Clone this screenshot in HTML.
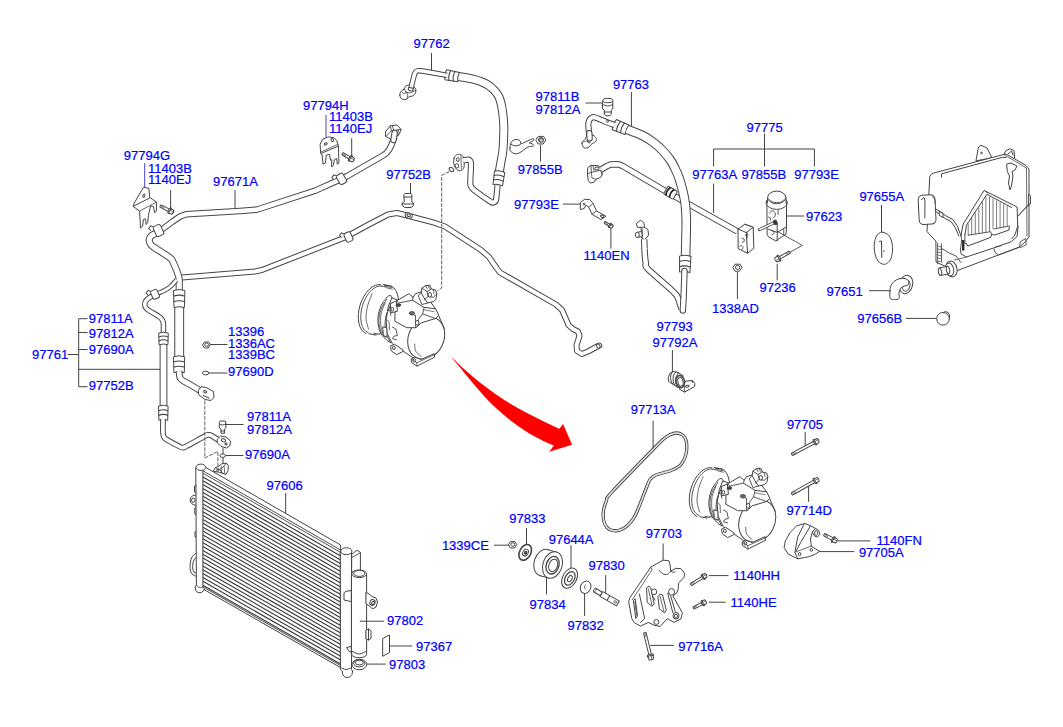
<!DOCTYPE html>
<html><head><meta charset="utf-8"><title>A/C system parts diagram</title>
<style>html,body{margin:0;padding:0;background:#fff}svg{display:block}text{font-family:"Liberation Sans",Arial,sans-serif;font-size:13px;fill:#0000ff;stroke:#0000ff;stroke-width:0.22px}</style>
</head><body>
<svg width="1063" height="727" viewBox="0 0 1063 727">
<rect width="1063" height="727" fill="#fff"/>
<g id="drawing">
<path d="M182 277.5 L255 271.5 L262 270 L345 237.5 L366 226 L388 214.5 L397 213 L409 216 L434 222.6 L445 226.5 L481 250 L489 257 L496.5 268 L500 272.5 L556 304.5 L562 310 L568.5 325 L573 329 L578 331.5 L579.5 336 L576.5 345 L577 351 L582 354 L588 351.5 L599 345.5" fill="none" stroke="#454545" stroke-width="6" stroke-linejoin="round" stroke-linecap="butt"/>
<path d="M182 277.5 L255 271.5 L262 270 L345 237.5 L366 226 L388 214.5 L397 213 L409 216 L434 222.6 L445 226.5 L481 250 L489 257 L496.5 268 L500 272.5 L556 304.5 L562 310 L568.5 325 L573 329 L578 331.5 L579.5 336 L576.5 345 L577 351 L582 354 L588 351.5 L599 345.5" fill="none" stroke="#fff" stroke-width="4" stroke-linejoin="round" stroke-linecap="butt"/>
<ellipse cx="600" cy="345.2" rx="1.6" ry="2.3" fill="#fff" stroke="#454545" stroke-width="1" transform="rotate(-28 600 345.2)"/>
<ellipse cx="598.3" cy="346.1" rx="1.6" ry="2.3" fill="#fff" stroke="#454545" stroke-width="1" transform="rotate(-28 598.3 346.1)"/>
<g transform="translate(348.5 237) rotate(-25)">
<rect x="-3.5" y="-4.8" width="7" height="9.5" rx="2" fill="#fff" stroke="#454545" stroke-width="1"/>
<path d="M-2.5 -4.2 l-2 -2.5 l-3 1.5 l1 3" fill="#fff" stroke="#454545" stroke-width="1"/>
</g>
<ellipse cx="408.7" cy="215.6" rx="3.6" ry="2.6" fill="#fff" stroke="#454545" stroke-width="1" transform="rotate(15 408.7 215.6)"/>
<ellipse cx="408.7" cy="215.3" rx="1.8" ry="1.2" fill="#fff" stroke="#454545" stroke-width="1" transform="rotate(15 408.7 215.3)"/>
<path d="M394.3 137.1 L391.5 145 L389.2 149.5 L386.5 153 L383.5 155.2 L347.4 176 L341 179.2 L334 182.3 L315.3 190.6 L262 208 L256 209.8 L240 211 L186 214.3 L180 216.5 L172 222 L162 229.5" fill="none" stroke="#454545" stroke-width="6.5" stroke-linejoin="round" stroke-linecap="butt"/>
<path d="M394.3 137.1 L391.5 145 L389.2 149.5 L386.5 153 L383.5 155.2 L347.4 176 L341 179.2 L334 182.3 L315.3 190.6 L262 208 L256 209.8 L240 211 L186 214.3 L180 216.5 L172 222 L162 229.5" fill="none" stroke="#fff" stroke-width="4.5" stroke-linejoin="round" stroke-linecap="butt"/>
<g transform="translate(341.5 178.8) rotate(-30)">
<rect x="-3.8" y="-5.2" width="7.5" height="10.5" rx="2" fill="#fff" stroke="#454545" stroke-width="1"/>
<path d="M-2.8 -4.8 l-2 -2.5 l-3 1.5 l1 3" fill="#fff" stroke="#454545" stroke-width="1"/>
</g>
<path d="M385.8 131.4 L390.3 125.8 L397.1 125 L401 129.4 L399.3 134.3 L396 137.1 L390.3 138.8 L385.8 136.5Z" fill="#fff" stroke="#454545" stroke-width="1" stroke-linejoin="round" stroke-linecap="round" />
<path d="M390.3 125.8 L391.4 130.9 L385.8 136.5" fill="none" stroke="#454545" stroke-width="0.9" stroke-linejoin="round" stroke-linecap="round" />
<path d="M391.4 130.9 L398.2 129.8 L401 129.4" fill="none" stroke="#454545" stroke-width="0.9" stroke-linejoin="round" stroke-linecap="round" />
<path d="M392.6 126.4 L393.7 130.3" fill="none" stroke="#454545" stroke-width="0.9" stroke-linejoin="round" stroke-linecap="round" />
<path d="M398.2 129.8 L398 135.7" fill="none" stroke="#454545" stroke-width="0.9" stroke-linejoin="round" stroke-linecap="round" />
<path d="M394.6 133 L393.5 140" fill="none" stroke="#454545" stroke-width="6.4" stroke-linejoin="round" stroke-linecap="round"/>
<path d="M394.6 133 L393.5 140" fill="none" stroke="#fff" stroke-width="4.4" stroke-linejoin="round" stroke-linecap="round"/>
<path d="M160 230 C159.4 230.5 157.8 231.9 156.3 232.9 C154.8 233.9 152.2 234.8 151 236 C149.8 237.2 149.3 238.7 149.2 240 C149.1 241.3 149.8 242.8 150.5 244 C151.2 245.2 150.3 244.8 153.5 247 C156.7 249.2 166.2 255 169.5 257.5 C172.8 260 171.5 258.9 173 262 C174.5 265.1 177.6 272.5 178.6 276 C179.6 279.5 179.1 280.3 179.2 283 C179.3 285.7 179.2 290.5 179.2 292" fill="none" stroke="#454545" stroke-width="7.2" stroke-linejoin="round" stroke-linecap="butt"/>
<path d="M160 230 C159.4 230.5 157.8 231.9 156.3 232.9 C154.8 233.9 152.2 234.8 151 236 C149.8 237.2 149.3 238.7 149.2 240 C149.1 241.3 149.8 242.8 150.5 244 C151.2 245.2 150.3 244.8 153.5 247 C156.7 249.2 166.2 255 169.5 257.5 C172.8 260 171.5 258.9 173 262 C174.5 265.1 177.6 272.5 178.6 276 C179.6 279.5 179.1 280.3 179.2 283 C179.3 285.7 179.2 290.5 179.2 292" fill="none" stroke="#fff" stroke-width="5.2" stroke-linejoin="round" stroke-linecap="butt"/>
<g transform="translate(158.5 230.5) rotate(-25)">
<rect x="-4" y="-5.5" width="8" height="11" rx="2" fill="#fff" stroke="#454545" stroke-width="1"/>
<path d="M-3 -5 l-2 -2.5 l-3 1.5 l1 3" fill="#fff" stroke="#454545" stroke-width="1"/>
</g>
<path d="M176.5 280 C175.3 281.2 172.1 285.4 169.5 287.4 C166.9 289.4 163.2 291 161 292.1 C158.8 293.2 156.8 293.7 156 294" fill="none" stroke="#454545" stroke-width="4.8" stroke-linejoin="round" stroke-linecap="butt"/>
<path d="M176.5 280 C175.3 281.2 172.1 285.4 169.5 287.4 C166.9 289.4 163.2 291 161 292.1 C158.8 293.2 156.8 293.7 156 294" fill="none" stroke="#fff" stroke-width="2.8" stroke-linejoin="round" stroke-linecap="butt"/>
<path d="M155.4 294 C154.3 294.7 150.5 296.8 148.8 298 C147.2 299.2 146.2 300.3 145.5 301.5 C144.8 302.7 144.7 303.9 144.8 305 C144.9 306.1 145.3 307.1 146 308 C146.7 308.9 146.8 309.1 149 310.5 C151.2 311.9 156.8 315 159 316.5 C161.2 318 161.3 318.3 162 319.5 C162.7 320.7 163.2 321 163.4 323.6 C163.6 326.2 163.4 333.1 163.4 335" fill="none" stroke="#454545" stroke-width="5.5" stroke-linejoin="round" stroke-linecap="butt"/>
<path d="M155.4 294 C154.3 294.7 150.5 296.8 148.8 298 C147.2 299.2 146.2 300.3 145.5 301.5 C144.8 302.7 144.7 303.9 144.8 305 C144.9 306.1 145.3 307.1 146 308 C146.7 308.9 146.8 309.1 149 310.5 C151.2 311.9 156.8 315 159 316.5 C161.2 318 161.3 318.3 162 319.5 C162.7 320.7 163.2 321 163.4 323.6 C163.6 326.2 163.4 333.1 163.4 335" fill="none" stroke="#fff" stroke-width="3.5" stroke-linejoin="round" stroke-linecap="butt"/>
<g transform="translate(155 294.3) rotate(-25)">
<rect x="-3.5" y="-4.5" width="7" height="9" rx="2" fill="#fff" stroke="#454545" stroke-width="1"/>
<path d="M-2.5 -4 l-2 -2.5 l-3 1.5 l1 3" fill="#fff" stroke="#454545" stroke-width="1"/>
</g>
<path d="M179.2 300 L179.2 360" fill="none" stroke="#454545" stroke-width="9.9" stroke-linejoin="round" stroke-linecap="butt"/>
<path d="M179.2 300 L179.2 360" fill="none" stroke="#fff" stroke-width="7.9" stroke-linejoin="round" stroke-linecap="butt"/>
<g transform="translate(179.2 299) rotate(90)">
<path d="M-8.5 -5.7 Q-10.5 0 -8.5 5.7 L8.5 5.2 Q6.9 0 8.5 -5.2 Z" fill="#fff" stroke="#454545" stroke-width="1" stroke-linejoin="round"/>
<path d="M-2.8 -5.7 Q-5 0 -2.8 5.7" fill="none" stroke="#454545" stroke-width="1.1"/>
<path d="M2.8 -5.7 Q0.6 0 2.8 5.7" fill="none" stroke="#454545" stroke-width="1.1"/>
</g>
<g transform="translate(179.1 364.7) rotate(90)">
<path d="M-7.9 -5.6 Q-9.9 0 -7.9 5.6 L7.9 5.2 Q6.3 0 7.9 -5.2 Z" fill="#fff" stroke="#454545" stroke-width="1" stroke-linejoin="round"/>
<path d="M-2.6 -5.6 Q-4.8 0 -2.6 5.6" fill="none" stroke="#454545" stroke-width="1.1"/>
<path d="M2.6 -5.6 Q0.4 0 2.6 5.6" fill="none" stroke="#454545" stroke-width="1.1"/>
</g>
<path d="M179 371 C179.2 372.1 179.2 376 180 377.7 C180.8 379.4 181.9 379.9 183.5 381 C185.1 382.1 186.4 382.5 189.7 384.4 C192.9 386.3 200.8 391 203 392.3" fill="none" stroke="#454545" stroke-width="6.8" stroke-linejoin="round" stroke-linecap="butt"/>
<path d="M179 371 C179.2 372.1 179.2 376 180 377.7 C180.8 379.4 181.9 379.9 183.5 381 C185.1 382.1 186.4 382.5 189.7 384.4 C192.9 386.3 200.8 391 203 392.3" fill="none" stroke="#fff" stroke-width="4.8" stroke-linejoin="round" stroke-linecap="butt"/>
<path d="M198.5 390 L201 386.8 L206 387.5 L213.5 391.5 L214 397.5 L211 400.5 L205 399.5 L199 395Z" fill="#fff" stroke="#454545" stroke-width="1" stroke-linejoin="round" stroke-linecap="round" />
<ellipse cx="205.2" cy="391.8" rx="1.6" ry="1.1" fill="#fff" stroke="#454545" stroke-width="1" transform="rotate(20 205.2 391.8)"/>
<path d="M203 395.5 L209 398" fill="none" stroke="#454545" stroke-width="1" stroke-linejoin="round" stroke-linecap="round" />
<path d="M163.5 342 L163.5 410" fill="none" stroke="#454545" stroke-width="7.8" stroke-linejoin="round" stroke-linecap="butt"/>
<path d="M163.5 342 L163.5 410" fill="none" stroke="#fff" stroke-width="5.8" stroke-linejoin="round" stroke-linecap="butt"/>
<g transform="translate(163.5 339) rotate(90)">
<path d="M-5.8 -4.8 Q-7.8 0 -5.8 4.8 L5.8 4.4 Q4.2 0 5.8 -4.4 Z" fill="#fff" stroke="#454545" stroke-width="1" stroke-linejoin="round"/>
<path d="M-1.9 -4.8 Q-4.1 0 -1.9 4.8" fill="none" stroke="#454545" stroke-width="1.1"/>
<path d="M1.9 -4.8 Q-0.3 0 1.9 4.8" fill="none" stroke="#454545" stroke-width="1.1"/>
</g>
<g transform="translate(163.3 413.2) rotate(90)">
<path d="M-7 -4.8 Q-9 0 -7 4.8 L7 4.4 Q5.4 0 7 -4.4 Z" fill="#fff" stroke="#454545" stroke-width="1" stroke-linejoin="round"/>
<path d="M-2.3 -4.8 Q-4.5 0 -2.3 4.8" fill="none" stroke="#454545" stroke-width="1.1"/>
<path d="M2.3 -4.8 Q0.1 0 2.3 4.8" fill="none" stroke="#454545" stroke-width="1.1"/>
</g>
<path d="M163 419 C163 421.3 162.8 430 163 433 C163.2 436 163.3 435.9 164 437 C164.7 438.1 164.4 438.2 167.1 439.8 C169.8 441.4 177.3 445.5 180 446.8 C182.7 448.1 182 447.4 183 447.4 C184 447.3 182.2 448.4 186 446.5 C189.8 444.6 201.8 437.7 205.5 435.8 C209.2 433.9 207.1 435.1 208 435 C208.9 434.9 209 434.4 211 435.4 C213 436.4 218.5 440.1 220 441" fill="none" stroke="#454545" stroke-width="5.7" stroke-linejoin="round" stroke-linecap="butt"/>
<path d="M163 419 C163 421.3 162.8 430 163 433 C163.2 436 163.3 435.9 164 437 C164.7 438.1 164.4 438.2 167.1 439.8 C169.8 441.4 177.3 445.5 180 446.8 C182.7 448.1 182 447.4 183 447.4 C184 447.3 182.2 448.4 186 446.5 C189.8 444.6 201.8 437.7 205.5 435.8 C209.2 433.9 207.1 435.1 208 435 C208.9 434.9 209 434.4 211 435.4 C213 436.4 218.5 440.1 220 441" fill="none" stroke="#fff" stroke-width="3.7" stroke-linejoin="round" stroke-linecap="butt"/>
<path d="M217.5 439 L220.5 436 L226 437 L230.5 441 L230 445.5 L226.5 448 L221 446.5 L217.5 443Z" fill="#fff" stroke="#454545" stroke-width="1" stroke-linejoin="round" stroke-linecap="round" />
<ellipse cx="223.5" cy="440.3" rx="2.2" ry="1.5" fill="#fff" stroke="#454545" stroke-width="1" transform="rotate(25 223.5 440.3)"/>
<ellipse cx="226" cy="444" rx="1.1" ry="0.8" fill="#fff" stroke="#454545" stroke-width="1" transform="rotate(25 226 444)"/>
<path d="M204.8 400.5 V458 L217.9 451.4 V466" fill="none" stroke="#555" stroke-width="0.9" stroke-dasharray="4 1.2"/>
<path d="M223 448 L223 465.5" stroke="#444" stroke-width="1" fill="none"/>
<path d="M219.6 422 L220.2 421 L225.2 421 L225.8 422 L225.8 428 L224.6 429 L224.6 433.2 L221 433.2 L221 429 L219.6 428Z" fill="#fff" stroke="#454545" stroke-width="1" stroke-linejoin="round" stroke-linecap="round" />
<path d="M219.6 424 C220.1 424.2 221.7 425 222.7 425 C223.7 425 225.3 424.2 225.8 424" fill="none" stroke="#454545" stroke-width="1" stroke-linejoin="round" stroke-linecap="round" />
<path d="M221 431 L224.6 431" fill="none" stroke="#454545" stroke-width="1" stroke-linejoin="round" stroke-linecap="round" />
<path d="M225 424.5 L243.5 424.5" stroke="#444" stroke-width="1" fill="none"/>
<ellipse cx="222.7" cy="455.7" rx="2.7" ry="1.8" fill="#fff" stroke="#454545" stroke-width="1"/>
<path d="M225.5 455.5 L243.5 455.5" stroke="#444" stroke-width="1" fill="none"/>
<path d="M87.5 318.7 H78.7 V386.7 H87.5 M78.7 332.5 H87.5 M78.7 349.5 H87.5 M67.5 354.5 H78.7 M78.7 369.3 H160" fill="none" stroke="#444" stroke-width="1"/>
<path d="M210.1 345 L208.2 348 L204.4 348 L202.5 345 L204.4 342 L208.2 342Z" fill="#fff" stroke="#454545" stroke-width="1" stroke-linejoin="round" stroke-linecap="round" />
<ellipse cx="206.6" cy="344.7" rx="1.9" ry="1.7" fill="#fff" stroke="#454545" stroke-width="1"/>
<path d="M210 344.5 L227.5 344.5" stroke="#444" stroke-width="1" fill="none"/>
<ellipse cx="205.6" cy="373" rx="3.1" ry="1.9" fill="#fff" stroke="#454545" stroke-width="1"/>
<path d="M208.7 373 L227.5 373" stroke="#444" stroke-width="1" fill="none"/>
<path d="M143.9 187.3 L148.9 188.4 L149.7 197.4 L156.3 201.9 L156.5 211 L154.6 212.7 L153.5 206.4 L150.6 205.9 L148.4 215.5 L147.8 222.3 L146.1 224.5 L145.6 218.9 L143.3 219.4 L142.7 226.2 L140.5 227.9 L139.6 211 L133.1 206.4 L134.3 203.1Z" fill="#fff" stroke="#454545" stroke-width="1" stroke-linejoin="round" stroke-linecap="round" />
<path d="M133.5 206.2 L149.7 198" fill="none" stroke="#454545" stroke-width="1" stroke-linejoin="round" stroke-linecap="round" />
<path d="M139.6 211 L156.3 202.2" fill="none" stroke="#454545" stroke-width="0.8" stroke-linejoin="round" stroke-linecap="round" />
<ellipse cx="143.9" cy="195.7" rx="1" ry="1.7" fill="#fff" stroke="#454545" stroke-width="1" transform="rotate(25 143.9 195.7)"/>
<path d="M144.7 163 L144.7 187.3" stroke="#44c" stroke-width="1" fill="none"/>
<g transform="translate(160.2 205.9) rotate(26.7)">
<rect x="0" y="-1.3" width="10.7" height="2.6" rx="0.8" fill="#fff" stroke="#454545" stroke-width="0.95"/>
<path d="M1.3 -1.3 v2.6" stroke="#454545" stroke-width="0.6"/>
<path d="M2.6 -1.3 v2.6" stroke="#454545" stroke-width="0.6"/>
<path d="M3.9 -1.3 v2.6" stroke="#454545" stroke-width="0.6"/>
<ellipse cx="10.7" cy="0" rx="1.3" ry="3.1" fill="#fff" stroke="#454545" stroke-width="1"/>
<path d="M10.7 -2.4 L14.1 -2.2 Q15.5 0 14.1 2.2 L10.7 2.4 Z" fill="#fff" stroke="#454545" stroke-width="1" stroke-linejoin="round"/>
<path d="M10.7 -0.6 H14.9" stroke="#454545" stroke-width="0.7"/>
</g>
<path d="M170.6 190.1 L170.6 208.7" stroke="#444" stroke-width="1" fill="none"/>
<path d="M235 190 L235 208" stroke="#444" stroke-width="1" fill="none"/>
<path d="M320.3 143.9 L322.6 139.4 L328.2 136.9 L333.9 137.7 L336.7 140.5 L338.4 146.1 L338.9 163.1 L337.3 164.2 L336.7 158.5 L334.4 159.7 L333.3 165.3 L331.6 167 L331.8 159.7 L330.5 160.2 L329.6 154.3 L326.2 155.2 L325.4 163.1 L323.1 164.2 L322 154.6 L320.9 153.5Z" fill="#fff" stroke="#454545" stroke-width="1" stroke-linejoin="round" stroke-linecap="round" />
<path d="M320.9 153.5 L338.4 146.1" fill="none" stroke="#454545" stroke-width="1" stroke-linejoin="round" stroke-linecap="round" />
<path d="M321.4 151.8 L337.8 144.4" fill="none" stroke="#454545" stroke-width="0.8" stroke-linejoin="round" stroke-linecap="round" />
<ellipse cx="325.7" cy="143.9" rx="1.6" ry="1" fill="#fff" stroke="#454545" stroke-width="1" transform="rotate(-30 325.7 143.9)"/>
<ellipse cx="332.3" cy="140" rx="1.2" ry="1.6" fill="#fff" stroke="#454545" stroke-width="1" transform="rotate(-20 332.3 140)"/>
<path d="M326 115 L326 137.5" stroke="#44c" stroke-width="1" fill="none"/>
<g transform="translate(342.3 153.5) rotate(30.9)">
<rect x="0" y="-1.3" width="9.4" height="2.6" rx="0.8" fill="#fff" stroke="#454545" stroke-width="0.95"/>
<path d="M1.3 -1.3 v2.6" stroke="#454545" stroke-width="0.6"/>
<path d="M2.6 -1.3 v2.6" stroke="#454545" stroke-width="0.6"/>
<path d="M3.9 -1.3 v2.6" stroke="#454545" stroke-width="0.6"/>
<ellipse cx="9.4" cy="0" rx="1.3" ry="3.1" fill="#fff" stroke="#454545" stroke-width="1"/>
<path d="M9.4 -2.4 L12.8 -2.2 Q14.2 0 12.8 2.2 L9.4 2.4 Z" fill="#fff" stroke="#454545" stroke-width="1" stroke-linejoin="round"/>
<path d="M9.4 -0.6 H13.6" stroke="#454545" stroke-width="0.7"/>
</g>
<path d="M351.7 138.2 L351.7 156" stroke="#444" stroke-width="1" fill="none"/>
<path d="M454.1 158.2 C454.5 156.8 454.9 156.1 455.8 155.4 C456.7 154.7 458.5 154.1 459.8 154.3 C461 154.5 462.4 155.5 463.1 156.5 C463.9 157.6 464.1 158.7 464.3 160.5 C464.4 162.3 464.3 165.7 463.9 167.3 C463.6 168.9 462.9 169.5 462 170.1 C461.1 170.6 459.7 170.9 458.6 170.6 C457.6 170.4 456.6 169.5 455.8 168.4 C455 167.3 454.1 165.6 453.8 163.9 C453.5 162.2 453.8 159.6 454.1 158.2Z" fill="#fff" stroke="#454545" stroke-width="1" stroke-linejoin="round" stroke-linecap="round" />
<ellipse cx="457.8" cy="159.6" rx="1.4" ry="1.9" fill="#fff" stroke="#454545" stroke-width="1"/>
<ellipse cx="456.9" cy="165.9" rx="1.8" ry="2.2" fill="#fff" stroke="#454545" stroke-width="1"/>
<path d="M460.9 155.4 L461.4 168.9" fill="none" stroke="#454545" stroke-width="0.8" stroke-linejoin="round" stroke-linecap="round" />
<ellipse cx="451.5" cy="169.5" rx="2.6" ry="1.7" fill="#fff" stroke="#454545" stroke-width="1" transform="rotate(40 451.5 169.5)"/>
<path d="M463.1 160.5 C464 160.3 467 159.5 468.2 159.6 C469.4 159.7 469.8 160.1 470.3 161 C470.7 161.9 471 161.3 471 165 C471 168.7 470.2 179.4 470.3 183.1 C470.3 186.7 470.8 185.9 471.4 187 C472 188.1 470.8 187.5 473.9 189.8 C476.9 192.2 486.6 199 489.7 201.1 C492.7 203.2 491.4 202.3 492.2 202.5 C492.9 202.6 493.8 202.5 494.4 202 C495.1 201.5 495.6 202.2 496.1 199.4 C496.6 196.6 497.3 187.7 497.6 185.3" fill="none" stroke="#454545" stroke-width="6.2" stroke-linejoin="round" stroke-linecap="butt"/>
<path d="M463.1 160.5 C464 160.3 467 159.5 468.2 159.6 C469.4 159.7 469.8 160.1 470.3 161 C470.7 161.9 471 161.3 471 165 C471 168.7 470.2 179.4 470.3 183.1 C470.3 186.7 470.8 185.9 471.4 187 C472 188.1 470.8 187.5 473.9 189.8 C476.9 192.2 486.6 199 489.7 201.1 C492.7 203.2 491.4 202.3 492.2 202.5 C492.9 202.6 493.8 202.5 494.4 202 C495.1 201.5 495.6 202.2 496.1 199.4 C496.6 196.6 497.3 187.7 497.6 185.3" fill="none" stroke="#fff" stroke-width="4.2" stroke-linejoin="round" stroke-linecap="butt"/>
<path d="M449.5 171.5 L441.7 175.3 V288 L437.5 290.5" fill="none" stroke="#555" stroke-width="0.9" stroke-dasharray="4 1.2"/>
<path d="M399.8 95 C399.8 93.9 400.1 92.6 400.8 91.6 C401.6 90.6 403.5 89.8 404.2 88.9 C405 88.1 404.6 86.9 405.4 86.3 C406.1 85.6 407.5 85 408.8 85 C410.1 85 412.2 85.6 413.3 86.3 C414.5 87 415.4 88.2 415.8 89.3 C416.1 90.4 415.9 91.7 415.5 92.7 C415.1 93.8 414.4 95.1 413.3 95.8 C412.3 96.4 410.2 96.2 409.2 96.7 C408.2 97.2 408.2 98.3 407.3 98.8 C406.4 99.3 404.9 99.8 403.9 99.7 C402.8 99.6 401.5 98.8 400.8 98 C400.2 97.2 399.8 96.1 399.8 95Z" fill="#fff" stroke="#454545" stroke-width="1" stroke-linejoin="round" stroke-linecap="round" />
<path d="M404.2 88.9 C404.6 89.4 405.1 91.3 406.1 92 C407.1 92.6 408.8 93 410.3 92.7 C411.9 92.5 414.6 90.8 415.5 90.5" fill="none" stroke="#454545" stroke-width="0.9" stroke-linejoin="round" stroke-linecap="round" />
<path d="M406.1 92 C406.4 92.5 407.5 94.2 407.7 95.4 C407.8 96.5 407.3 98.2 407.3 98.8" fill="none" stroke="#454545" stroke-width="0.9" stroke-linejoin="round" stroke-linecap="round" />
<path d="M402 92 L403.5 93.5 L406.1 92.7" fill="none" stroke="#454545" stroke-width="0.8" stroke-linejoin="round" stroke-linecap="round" />
<path d="M457 76.2 C459.8 76.7 469.8 78.3 474 79.3 C478.2 80.3 479.6 81 482 82 C484.4 83 486.6 84.1 488.7 85.5 C490.8 86.9 492.8 88.6 494.5 90.5 C496.2 92.4 497.8 94.5 498.9 96.8 C500 99 500.6 101.6 501.2 104 C501.8 106.4 502.1 108.4 502.5 111.4 C502.9 114.4 503.4 118.9 503.6 122 C503.8 125.1 503.9 126.2 503.8 130 C503.8 133.8 503.5 141.2 503.3 145 C503.1 148.8 503 150 502.6 153 C502.2 156 501.4 159.5 500.8 163 C500.2 166.5 499.2 172.2 498.9 174" fill="none" stroke="#454545" stroke-width="9" stroke-linejoin="round" stroke-linecap="butt"/>
<path d="M457 76.2 C459.8 76.7 469.8 78.3 474 79.3 C478.2 80.3 479.6 81 482 82 C484.4 83 486.6 84.1 488.7 85.5 C490.8 86.9 492.8 88.6 494.5 90.5 C496.2 92.4 497.8 94.5 498.9 96.8 C500 99 500.6 101.6 501.2 104 C501.8 106.4 502.1 108.4 502.5 111.4 C502.9 114.4 503.4 118.9 503.6 122 C503.8 125.1 503.9 126.2 503.8 130 C503.8 133.8 503.5 141.2 503.3 145 C503.1 148.8 503 150 502.6 153 C502.2 156 501.4 159.5 500.8 163 C500.2 166.5 499.2 172.2 498.9 174" fill="none" stroke="#fff" stroke-width="7" stroke-linejoin="round" stroke-linecap="butt"/>
<g transform="translate(452.2 75.9) rotate(10)">
<path d="M-6.5 -5.1 Q-8.5 0 -6.5 5.1 L6.5 4.7 Q4.9 0 6.5 -4.7 Z" fill="#fff" stroke="#454545" stroke-width="1" stroke-linejoin="round"/>
<path d="M-2.2 -5.1 Q-4.4 0 -2.2 5.1" fill="none" stroke="#454545" stroke-width="1.1"/>
<path d="M2.2 -5.1 Q-0 0 2.2 5.1" fill="none" stroke="#454545" stroke-width="1.1"/>
</g>
<g transform="translate(498.7 178.5) rotate(98)">
<path d="M-6.8 -5.2 Q-8.8 0 -6.8 5.2 L6.8 4.8 Q5.2 0 6.8 -4.8 Z" fill="#fff" stroke="#454545" stroke-width="1" stroke-linejoin="round"/>
<path d="M-2.2 -5.2 Q-4.5 0 -2.2 5.2" fill="none" stroke="#454545" stroke-width="1.1"/>
<path d="M2.2 -5.2 Q0 0 2.2 5.2" fill="none" stroke="#454545" stroke-width="1.1"/>
</g>
<path d="M410.8 88.9 C411.4 86.6 413.4 78.1 414.2 75.3 C415 72.5 414.9 73 415.5 72.3 C416.1 71.5 416.8 71 417.6 70.8 C418.4 70.5 418.2 70.5 420.5 70.8 C422.8 71.1 426.7 71.7 431.1 72.5 C435.5 73.3 444.4 74.9 447 75.4" fill="none" stroke="#454545" stroke-width="5.5" stroke-linejoin="round" stroke-linecap="butt"/>
<path d="M410.8 88.9 C411.4 86.6 413.4 78.1 414.2 75.3 C415 72.5 414.9 73 415.5 72.3 C416.1 71.5 416.8 71 417.6 70.8 C418.4 70.5 418.2 70.5 420.5 70.8 C422.8 71.1 426.7 71.7 431.1 72.5 C435.5 73.3 444.4 74.9 447 75.4" fill="none" stroke="#fff" stroke-width="3.5" stroke-linejoin="round" stroke-linecap="butt"/>
<ellipse cx="410.8" cy="89.2" rx="2.6" ry="1.6" fill="#fff" stroke="#454545" stroke-width="1" transform="rotate(15 410.8 89.2)"/>
<path d="M431.5 53 L431.5 70.2" stroke="#444" stroke-width="1" fill="none"/>
<path d="M510 148.1 C510 146.7 510.3 144.3 510.9 143 C511.5 141.7 512.3 140.8 513.4 140.2 C514.5 139.6 516.2 139.2 517.3 139.4 C518.5 139.6 519.7 140.6 520.4 141.3 C521.1 142 519.5 144 521.5 143.5 C523.5 143.1 530.6 139.3 532.6 138.8 C534.5 138.3 533.8 140 533.2 140.7 C532.7 141.4 529.3 142.4 529.2 143 C529.1 143.5 532.2 143.5 532.8 144.1 C533.4 144.7 533.4 146 532.6 146.5 C531.8 147 530.3 145.8 528.1 146.9 C525.8 148 521.4 152.1 519 153.1 C516.7 154.2 515.4 153.7 513.9 153.4 C512.5 153 511.2 152.1 510.6 151.2 C509.9 150.3 509.9 149.4 510 148.1Z" fill="#fff" stroke="#454545" stroke-width="1" stroke-linejoin="round" stroke-linecap="round" />
<path d="M510.9 144.1 C511.5 144.4 513.2 145.6 514.5 145.8 C515.9 146 517.9 145.6 519 145.2 C520.2 144.9 521.1 143.8 521.5 143.5" fill="none" stroke="#454545" stroke-width="1" stroke-linejoin="round" stroke-linecap="round" />
<path d="M545.6 140.2 L543.2 144 L538.2 144 L535.8 140.2 L538.2 136.4 L543.2 136.4Z" fill="#fff" stroke="#454545" stroke-width="1" stroke-linejoin="round" stroke-linecap="round" />
<ellipse cx="541" cy="139.9" rx="2.5" ry="2.2" fill="#fff" stroke="#454545" stroke-width="1"/>
<circle cx="541" cy="140" r="2.7" fill="#666"/>
<circle cx="541.2" cy="140.2" r="1.2" fill="#ddd"/>
<path d="M540.5 145.2 L540.5 161.6" stroke="#444" stroke-width="1" fill="none"/>
<path d="M410.5 183 L410.5 194.3" stroke="#444" stroke-width="1" fill="none"/>
<path d="M404 194.5 L404.8 193.5 L411 193.5 L411.8 194.5 L411.8 202 L413.6 203 L413.6 205.5 L411 207.5 L404.8 207.5 L402.2 205.5 L402.2 203 L404 202Z" fill="#fff" stroke="#454545" stroke-width="1" stroke-linejoin="round" stroke-linecap="round" />
<path d="M404 197 L411.8 197" fill="none" stroke="#454545" stroke-width="1" stroke-linejoin="round" stroke-linecap="round" />
<path d="M402.2 204 L413.6 204" fill="none" stroke="#454545" stroke-width="1" stroke-linejoin="round" stroke-linecap="round" />
<path d="M588.1 167.3 L590.9 165.4 L598.2 165.6 L601.6 168.5 L602.2 174.7 L600.5 177.5 L596 179.2 L594.3 182 L590.3 183.1 L588.1 180.3 L587.5 173.5Z" fill="#fff" stroke="#454545" stroke-width="1" stroke-linejoin="round" stroke-linecap="round" />
<path d="M590.9 165.4 L591.4 172.4 L588.1 173.5" fill="none" stroke="#454545" stroke-width="0.9" stroke-linejoin="round" stroke-linecap="round" />
<path d="M591.4 172.4 L600.5 170.2 L602.2 174.7" fill="none" stroke="#454545" stroke-width="0.9" stroke-linejoin="round" stroke-linecap="round" />
<ellipse cx="596.9" cy="168.5" rx="2.2" ry="1.5" fill="#fff" stroke="#454545" stroke-width="1" transform="rotate(-15 596.9 168.5)"/>
<path d="M593.1 166.2 L593.7 170.2" fill="none" stroke="#454545" stroke-width="0.8" stroke-linejoin="round" stroke-linecap="round" />
<path d="M591.4 172.4 L592 178.1 L596 179.2" fill="none" stroke="#454545" stroke-width="0.8" stroke-linejoin="round" stroke-linecap="round" />
<path d="M601 169.6 L607.3 165.9 L610.6 164.5 L615.2 164.2 L619.1 164.5 L623.1 166.3 L664.8 190.7 L737.5 231.5" fill="none" stroke="#454545" stroke-width="6.5" stroke-linejoin="round" stroke-linecap="butt"/>
<path d="M601 169.6 L607.3 165.9 L610.6 164.5 L615.2 164.2 L619.1 164.5 L623.1 166.3 L664.8 190.7 L737.5 231.5" fill="none" stroke="#fff" stroke-width="4.5" stroke-linejoin="round" stroke-linecap="butt"/>
<g transform="translate(670.5 192.7) rotate(30)"><rect x="-5.5" y="-4.6" width="11" height="9.2" rx="1.5" fill="#fff" stroke="#454545"/><path d="M-2.6 -4.6 Q-5 0 -2.6 4.6 M1.6 -4.6 Q-0.8 0 1.6 4.6" fill="none" stroke="#222" stroke-width="1.7"/></g>
<path d="M738.3 229 L744.8 224.2 L753.2 227.3 L753.8 248.2 L747.6 253.3 L738.5 248.8Z" fill="#fff" stroke="#454545" stroke-width="1" stroke-linejoin="round" stroke-linecap="round" />
<path d="M738.3 229 L746.2 232.6 L753.2 227.3" fill="none" stroke="#454545" stroke-width="1" stroke-linejoin="round" stroke-linecap="round" />
<path d="M746.2 232.6 L747.6 253.3" fill="none" stroke="#454545" stroke-width="1" stroke-linejoin="round" stroke-linecap="round" />
<path d="M744.8 224.2 L752.1 226.8" fill="none" stroke="#454545" stroke-width="0.8" stroke-linejoin="round" stroke-linecap="round" />
<path d="M747 232.2 L747.2 238.1" fill="none" stroke="#454545" stroke-width="0.9" stroke-linejoin="round" stroke-linecap="round" />
<path d="M745.3 235.2 L748.1 234.7" fill="none" stroke="#454545" stroke-width="0.8" stroke-linejoin="round" stroke-linecap="round" />
<path d="M741.9 238.1 C742.3 238.2 743.6 238.4 744 239 C744.3 239.5 744.5 240.7 744.2 241.2 C743.9 241.8 742.5 242.2 742.2 242.3" fill="none" stroke="#454545" stroke-width="0.9" stroke-linejoin="round" stroke-linecap="round" />
<path d="M739.9 246 C740.2 245.9 741.4 245.5 741.9 245.7 C742.5 246 743.1 247 743.1 247.7 C743 248.3 741.9 249.3 741.7 249.6" fill="none" stroke="#454545" stroke-width="0.9" stroke-linejoin="round" stroke-linecap="round" />
<path d="M636.6 223.3 L640.6 220.3 L643.9 222.7 L644.5 227.3 L647.9 229.5 L648.6 235.2 L644.7 239.7 L641.8 238.3 L641.1 227.3 L637.7 227.3Z" fill="#fff" stroke="#454545" stroke-width="1" stroke-linejoin="round" stroke-linecap="round" />
<path d="M641.1 227.3 L644.5 227.3" fill="none" stroke="#454545" stroke-width="0.9" stroke-linejoin="round" stroke-linecap="round" />
<path d="M642.3 228.9 L642.3 237.4" fill="none" stroke="#454545" stroke-width="0.8" stroke-linejoin="round" stroke-linecap="round" />
<path d="M637.2 232.3 L641.7 231.5 L642.3 236.5 L637.7 237.4Z" fill="#fff" stroke="#454545" stroke-width="1" stroke-linejoin="round" stroke-linecap="round" />
<ellipse cx="637.3" cy="234.9" rx="2" ry="2.6" fill="#fff" stroke="#454545" stroke-width="1"/>
<path d="M644.2 239.2 C644.2 240.8 644.4 245.6 644.5 248.7 C644.7 251.8 644.8 255.3 645.1 257.7 C645.3 260.2 645.4 261.5 645.9 263.4 C646.3 265.3 643.5 264.5 647.9 269 C652.3 273.5 667.1 285.8 672 290.5 C676.9 295.2 675.9 293.9 677.5 297 C679.1 300.1 680.8 307 681.5 309" fill="none" stroke="#454545" stroke-width="6.5" stroke-linejoin="round" stroke-linecap="butt"/>
<path d="M644.2 239.2 C644.2 240.8 644.4 245.6 644.5 248.7 C644.7 251.8 644.8 255.3 645.1 257.7 C645.3 260.2 645.4 261.5 645.9 263.4 C646.3 265.3 643.5 264.5 647.9 269 C652.3 273.5 667.1 285.8 672 290.5 C676.9 295.2 675.9 293.9 677.5 297 C679.1 300.1 680.8 307 681.5 309" fill="none" stroke="#fff" stroke-width="4.5" stroke-linejoin="round" stroke-linecap="butt"/>
<path d="M626 129 C628.8 130.1 638.1 133.3 642.7 135.6 C647.3 137.8 650.3 140.1 653.5 142.5 C656.7 144.9 659.3 147.2 662 150 C664.7 152.8 667.7 156.3 669.9 159.4 C672.1 162.5 673.4 165.2 675 168.5 C676.6 171.8 678.2 175.3 679.5 179.2 C680.8 183.1 682 187.9 683 192 C684 196.1 684.7 199.3 685.2 203.5 C685.7 207.7 686 212.6 686.2 217 C686.4 221.4 686.3 223.2 686.2 230 C686.1 236.8 685.6 253.3 685.5 258" fill="none" stroke="#454545" stroke-width="9.6" stroke-linejoin="round" stroke-linecap="butt"/>
<path d="M626 129 C628.8 130.1 638.1 133.3 642.7 135.6 C647.3 137.8 650.3 140.1 653.5 142.5 C656.7 144.9 659.3 147.2 662 150 C664.7 152.8 667.7 156.3 669.9 159.4 C672.1 162.5 673.4 165.2 675 168.5 C676.6 171.8 678.2 175.3 679.5 179.2 C680.8 183.1 682 187.9 683 192 C684 196.1 684.7 199.3 685.2 203.5 C685.7 207.7 686 212.6 686.2 217 C686.4 221.4 686.3 223.2 686.2 230 C686.1 236.8 685.6 253.3 685.5 258" fill="none" stroke="#fff" stroke-width="7.6" stroke-linejoin="round" stroke-linecap="butt"/>
<g transform="translate(620.7 127.2) rotate(22)">
<path d="M-6.8 -5.5 Q-8.8 0 -6.8 5.5 L6.8 5.1 Q5.2 0 6.8 -5.1 Z" fill="#fff" stroke="#454545" stroke-width="1" stroke-linejoin="round"/>
<path d="M-2.2 -5.5 Q-4.5 0 -2.2 5.5" fill="none" stroke="#454545" stroke-width="1.1"/>
<path d="M2.2 -5.5 Q0 0 2.2 5.5" fill="none" stroke="#454545" stroke-width="1.1"/>
</g>
<g transform="translate(685 264.3) rotate(92)">
<path d="M-8 -5.7 Q-10 0 -8 5.7 L8 5.2 Q6.4 0 8 -5.2 Z" fill="#fff" stroke="#454545" stroke-width="1" stroke-linejoin="round"/>
<path d="M-2.7 -5.7 Q-4.9 0 -2.7 5.7" fill="none" stroke="#454545" stroke-width="1.1"/>
<path d="M2.7 -5.7 Q0.5 0 2.7 5.7" fill="none" stroke="#454545" stroke-width="1.1"/>
</g>
<path d="M684.5 271 L683.5 300 L682.8 310.5" fill="none" stroke="#454545" stroke-width="6.4" stroke-linejoin="round" stroke-linecap="round"/>
<path d="M684.5 271 L683.5 300 L682.8 310.5" fill="none" stroke="#fff" stroke-width="4.4" stroke-linejoin="round" stroke-linecap="round"/>
<path d="M589.7 139 C589.5 136.8 588.6 128.7 588.4 126 C588.2 123.3 588.3 124 588.5 123 C588.7 122 588.9 120.7 589.5 119.8 C590.1 118.9 591 118 591.9 117.6 C592.8 117.2 593.1 116.9 595 117.4 C596.9 117.9 600 119.4 603.2 120.7 C606.5 122 612.6 124.4 614.5 125.1" fill="none" stroke="#454545" stroke-width="6.2" stroke-linejoin="round" stroke-linecap="butt"/>
<path d="M589.7 139 C589.5 136.8 588.6 128.7 588.4 126 C588.2 123.3 588.3 124 588.5 123 C588.7 122 588.9 120.7 589.5 119.8 C590.1 118.9 591 118 591.9 117.6 C592.8 117.2 593.1 116.9 595 117.4 C596.9 117.9 600 119.4 603.2 120.7 C606.5 122 612.6 124.4 614.5 125.1" fill="none" stroke="#fff" stroke-width="4.2" stroke-linejoin="round" stroke-linecap="butt"/>
<ellipse cx="607.6" cy="121.2" rx="1" ry="1" fill="#fff" stroke="#454545" stroke-width="1"/>
<path d="M581.9 143.1 C581.9 141.7 583.8 140.8 584.7 139.7 C585.5 138.5 585.5 137 586.9 136.3 C588.3 135.6 591.6 135 593.1 135.4 C594.7 135.8 595.8 137.5 596.2 138.5 C596.6 139.6 596.2 141 595.4 141.9 C594.6 142.9 592.5 143.3 591.4 144.2 C590.4 145 590.4 146.4 589.2 147 C588 147.6 585.3 148.6 584.1 147.9 C582.9 147.3 581.8 144.4 581.9 143.1Z" fill="#fff" stroke="#454545" stroke-width="1" stroke-linejoin="round" stroke-linecap="round" />
<path d="M583.5 141.9 L586.9 140.8 L589.8 143.1" fill="none" stroke="#454545" stroke-width="0.8" stroke-linejoin="round" stroke-linecap="round" />
<ellipse cx="588.6" cy="141.7" rx="1.2" ry="0.8" fill="#fff" stroke="#454545" stroke-width="1"/>
<path d="M589.7 138.5 L589.3 133" fill="none" stroke="#454545" stroke-width="6.2" stroke-linejoin="round" stroke-linecap="round"/>
<path d="M589.7 138.5 L589.3 133" fill="none" stroke="#fff" stroke-width="4.2" stroke-linejoin="round" stroke-linecap="round"/>
<path d="M631.4 92 L631.4 126" stroke="#444" stroke-width="1" fill="none"/>
<path d="M602.8 101 L604 99 L611.5 99 L612.8 101 L612.8 109 L611.3 110.2 L611.3 114 L609.8 115.8 L605.8 115.8 L604.3 114 L604.3 110.2 L602.8 109Z" fill="#fff" stroke="#454545" stroke-width="1" stroke-linejoin="round" stroke-linecap="round" />
<ellipse cx="607.8" cy="100.5" rx="5" ry="2.2" fill="#fff" stroke="#454545" stroke-width="1"/>
<path d="M602.8 104.5 C603.6 104.8 606.1 106 607.8 106 C609.5 106 612 104.8 612.8 104.5" fill="none" stroke="#454545" stroke-width="1" stroke-linejoin="round" stroke-linecap="round" />
<path d="M604.3 112 L611.3 112" fill="none" stroke="#454545" stroke-width="1" stroke-linejoin="round" stroke-linecap="round" />
<path d="M585.5 103 L603 103" stroke="#444" stroke-width="1" fill="none"/>
<path d="M580.2 208.6 L580.4 202.4 L584.7 199.3 L589.8 199.6 L593.1 203.5 L596.5 210.9 L605.9 216.2 L601 219.6 L592 214.3 L588.6 206.9 L585.8 205.2 L584.1 208.6 L580.7 209.4Z" fill="#fff" stroke="#454545" stroke-width="1" stroke-linejoin="round" stroke-linecap="round" />
<path d="M588.6 206.9 L592 204.7 L593.1 203.5" fill="none" stroke="#454545" stroke-width="0.8" stroke-linejoin="round" stroke-linecap="round" />
<path d="M592 214.3 L596.5 210.9" fill="none" stroke="#454545" stroke-width="0.9" stroke-linejoin="round" stroke-linecap="round" />
<ellipse cx="584.1" cy="204.1" rx="0.9" ry="0.9" fill="#fff" stroke="#454545" stroke-width="1"/>
<ellipse cx="602.2" cy="216.3" rx="1.8" ry="1.1" fill="#fff" stroke="#454545" stroke-width="1" transform="rotate(25 602.2 216.3)"/>
<path d="M562.8 204.1 L580.2 204.1" stroke="#444" stroke-width="1" fill="none"/>
<g transform="translate(604.4 222.2) rotate(30.2)">
<rect x="0" y="-1.1" width="6.5" height="2.2" rx="0.8" fill="#fff" stroke="#454545" stroke-width="0.95"/>
<path d="M1.3 -1.1 v2.2" stroke="#454545" stroke-width="0.6"/>
<path d="M2.6 -1.1 v2.2" stroke="#454545" stroke-width="0.6"/>
<path d="M3.9 -1.1 v2.2" stroke="#454545" stroke-width="0.6"/>
<ellipse cx="6.5" cy="0" rx="1" ry="2.5" fill="#fff" stroke="#454545" stroke-width="1"/>
<path d="M6.5 -2 L9.1 -1.8 Q10.5 0 9.1 1.8 L6.5 2 Z" fill="#fff" stroke="#454545" stroke-width="1" stroke-linejoin="round"/>
<path d="M6.5 -0.5 H9.9" stroke="#454545" stroke-width="0.7"/>
</g>
<path d="M610.9 227.8 L610.9 248.7" stroke="#444" stroke-width="1" fill="none"/>
<path d="M767.3 204.8 L786.5 204.8 L786.5 227 L786 234.1 L775.8 240.9 L768.5 236.9 L767.3 234.7Z" fill="#fff" stroke="#454545" stroke-width="1" stroke-linejoin="round" stroke-linecap="round" />
<path d="M777.2 223.4 L777.2 240.9" fill="none" stroke="#454545" stroke-width="1" stroke-linejoin="round" stroke-linecap="round" />
<path d="M768.5 229.3 L777.2 232.4 L786.5 226.8" fill="none" stroke="#454545" stroke-width="1" stroke-linejoin="round" stroke-linecap="round" />
<path d="M769.6 213.2 C770 212.8 771 210.9 771.9 210.7 C772.7 210.6 774.1 211.2 774.7 212.1 C775.2 213 775.5 215.1 775.2 216 C775 217 773.4 217.6 773 218" fill="none" stroke="#454545" stroke-width="0.9" stroke-linejoin="round" stroke-linecap="round" />
<path d="M768.5 217.2 C768.7 217.3 769.8 217.2 770.2 217.7 C770.5 218.2 770.3 219.8 770.4 220.2" fill="none" stroke="#454545" stroke-width="0.9" stroke-linejoin="round" stroke-linecap="round" />
<path d="M778.1 210.4 L778.1 214.6" fill="none" stroke="#454545" stroke-width="0.9" stroke-linejoin="round" stroke-linecap="round" />
<path d="M771.5 230.7 C771.9 230.9 773.4 231 773.8 231.5 C774.1 232 774.1 233.2 773.8 233.8 C773.4 234.3 772.2 234.5 771.9 234.7" fill="none" stroke="#454545" stroke-width="0.9" stroke-linejoin="round" stroke-linecap="round" />
<path d="M783.7 228.5 L783.7 234.7" fill="none" stroke="#454545" stroke-width="0.8" stroke-linejoin="round" stroke-linecap="round" />
<ellipse cx="776.7" cy="202.6" rx="10.5" ry="6.8" fill="#fff" stroke="#454545" stroke-width="1"/>
<rect x="767.6" y="196" width="18.2" height="6.5" fill="#fff"/>
<path d="M767.6 197.4 L767.6 203.1" fill="none" stroke="#454545" stroke-width="1" stroke-linejoin="round" stroke-linecap="round" />
<path d="M786 197.4 L786 203.1" fill="none" stroke="#454545" stroke-width="1" stroke-linejoin="round" stroke-linecap="round" />
<path d="M766.3 201.9 L766.3 204.2" fill="none" stroke="#454545" stroke-width="0.8" stroke-linejoin="round" stroke-linecap="round" />
<path d="M787.1 201.9 L787.1 204.2" fill="none" stroke="#454545" stroke-width="0.8" stroke-linejoin="round" stroke-linecap="round" />
<ellipse cx="776.7" cy="197.4" rx="9" ry="6.3" fill="#fff" stroke="#454545" stroke-width="1"/>
<path d="M769.6 199.7 C770.1 200.1 771.2 201.4 772.4 201.9 C773.6 202.4 775.4 202.7 776.9 202.7 C778.4 202.7 780.3 202.4 781.4 201.9 C782.6 201.4 783.5 200.1 783.9 199.7" fill="none" stroke="#454545" stroke-width="0.9" stroke-linejoin="round" stroke-linecap="round" />
<path d="M759.6 229.6 L774.7 222.4" stroke="#454545" stroke-width="3.2" stroke-linecap="round"/>
<path d="M759.8 229.5 L773.5 223" stroke="#fff" stroke-width="1.4" stroke-linecap="round"/>
<ellipse cx="775.3" cy="222.4" rx="1.7" ry="2.3" fill="#333" stroke="#454545" stroke-width="1" transform="rotate(-20 775.3 222.4)"/>
<path d="M786.5 216 L804 216" stroke="#444" stroke-width="1" fill="none"/>
<path d="M777.2 231.3 L802.3 245.4 L789.3 252.7" fill="none" stroke="#454545" stroke-width="0.9" stroke-linejoin="round" stroke-linecap="round" />
<g transform="translate(790 252.2) rotate(151.6)">
<rect x="0" y="-1.2" width="12.7" height="2.5" rx="0.8" fill="#fff" stroke="#454545" stroke-width="0.95"/>
<path d="M1.3 -1.2 v2.5" stroke="#454545" stroke-width="0.6"/>
<path d="M2.6 -1.2 v2.5" stroke="#454545" stroke-width="0.6"/>
<path d="M3.9 -1.2 v2.5" stroke="#454545" stroke-width="0.6"/>
<ellipse cx="12.7" cy="0" rx="1.3" ry="3.2" fill="#fff" stroke="#454545" stroke-width="1"/>
<path d="M12.7 -2.5 L16.2 -2.3 Q17.6 0 16.2 2.3 L12.7 2.5 Z" fill="#fff" stroke="#454545" stroke-width="1" stroke-linejoin="round"/>
<path d="M12.7 -0.6 H17" stroke="#454545" stroke-width="0.7"/>
</g>
<path d="M777.2 263.8 L777.2 280.3" stroke="#444" stroke-width="1" fill="none"/>
<path d="M741.8 267.7 L739.5 271.2 L735 271.2 L732.8 267.7 L735 264.2 L739.5 264.2Z" fill="#fff" stroke="#454545" stroke-width="1" stroke-linejoin="round" stroke-linecap="round" />
<ellipse cx="737.6" cy="267.4" rx="2.2" ry="2" fill="#fff" stroke="#454545" stroke-width="1"/>
<path d="M737.4 272.2 L737.4 299" stroke="#444" stroke-width="1" fill="none"/>
<path d="M764.5 133.6 V166.5 M713.6 166.5 V149 H814.4 V166.5 M713.6 183.5 V213" fill="none" stroke="#444" stroke-width="1"/>
<path d="M881.5 205 L881.5 232.2" stroke="#444" stroke-width="1" fill="none"/>
<path d="M883 232.3 C884.4 232.7 887.1 233.6 888.5 235 C889.9 236.4 890.8 238.5 891.5 241 C892.2 243.5 892.6 247.1 892.5 250 C892.4 252.9 891.8 256.3 891 258.5 C890.2 260.7 888.8 262 887.5 263 C886.2 264 885 264.6 883.5 264.3 C882 264.1 879.9 263.2 878.5 261.5 C877.1 259.8 875.7 256.9 875 254 C874.3 251.1 874 247 874.3 244 C874.5 241 875.5 237.9 876.5 236 C877.5 234.1 878.9 233.4 880 232.8 C881.1 232.2 881.6 231.9 883 232.3Z" fill="#fff" stroke="#454545" stroke-width="1" stroke-linejoin="round" stroke-linecap="round" />
<path d="M879.5 241.5 L881.5 241 L881.8 257.5" fill="none" stroke="#454545" stroke-width="1" stroke-linejoin="round" stroke-linecap="round" />
<path d="M883.5 251 L884.3 251" fill="none" stroke="#454545" stroke-width="1" stroke-linejoin="round" stroke-linecap="round" />
<path d="M869 290.7 L890.5 290.7" stroke="#444" stroke-width="1" fill="none"/>
<ellipse cx="906" cy="284.5" rx="6.6" ry="9.3" fill="#fff" stroke="#454545" stroke-width="1" transform="rotate(15 906 284.5)"/>
<ellipse cx="906.3" cy="285.8" rx="3.6" ry="5.5" fill="#fff" stroke="#454545" stroke-width="1" transform="rotate(15 906.3 285.8)"/>
<path d="M890 291 C890.1 288.9 890.1 287.6 890.8 286 C891.5 284.4 892.6 282.7 894 281.5 C895.4 280.3 897.2 279.3 899 278.8 C900.8 278.3 903.4 278.1 905 278.5 C906.6 278.9 908 279.9 908.5 281 C909 282.1 908.8 284.1 908 285 C907.2 285.9 905.2 285.6 904 286.2 C902.8 286.8 901.3 287.4 900.5 288.5 C899.7 289.6 899.2 291.3 899 293 C898.8 294.7 899.8 297.4 899 298.5 C898.2 299.6 896 299.5 894.5 299.5 C893 299.5 891 299.7 890.3 298.3 C889.5 296.9 889.9 293.1 890 291Z" fill="#fff" stroke="#454545" stroke-width="1" stroke-linejoin="round" stroke-linecap="round" />
<path d="M906 318.4 L936.5 318.4" stroke="#444" stroke-width="1" fill="none"/>
<ellipse cx="945.8" cy="316.5" rx="3.8" ry="4.8" fill="#fff" stroke="#454545" stroke-width="1" transform="rotate(-10 945.8 316.5)"/>
<ellipse cx="943" cy="318.8" rx="6.3" ry="6.3" fill="#fff" stroke="#454545" stroke-width="1"/>
<path d="M672.4 350 L672.4 371.3" stroke="#444" stroke-width="1" fill="none"/>
<path d="M684 381.6 L691.7 380.3 L695 383.3 L694.5 386.6 L684.6 392.1 L679.6 389.3Z" fill="#fff" stroke="#454545" stroke-width="1" stroke-linejoin="round" stroke-linecap="round" />
<ellipse cx="687.3" cy="386.2" rx="1.8" ry="1" fill="#fff" stroke="#454545" stroke-width="1" transform="rotate(-10 687.3 386.2)"/>
<path d="M691.5 381.6 L693.4 381.4" fill="none" stroke="#454545" stroke-width="0.8" stroke-linejoin="round" stroke-linecap="round" />
<path d="M692.6 380.7 L692.4 382.5" fill="none" stroke="#454545" stroke-width="0.8" stroke-linejoin="round" stroke-linecap="round" />
<path d="M684.6 386 L684.6 392.1" fill="none" stroke="#454545" stroke-width="0.8" stroke-linejoin="round" stroke-linecap="round" />
<path d="M668.4 377.2 L669.9 373.4 L673 371.4 L678 372.6 L683.1 375.6 L680.2 387.7 L677.4 387.3 L668.8 381.6Z" fill="#fff" stroke="#454545" stroke-width="1" stroke-linejoin="round" stroke-linecap="round" />
<path d="M673 371.4 C672.6 372 671.2 373.6 670.8 375 C670.4 376.5 670.5 378.5 670.8 380 C671.1 381.4 672.2 383.2 672.5 383.8" fill="none" stroke="#454545" stroke-width="1" stroke-linejoin="round" stroke-linecap="round" />
<path d="M675.8 372 C675.4 372.7 673.7 374.3 673.3 375.9 C672.9 377.5 673.1 380 673.3 381.6 C673.6 383.3 674.7 385.1 675 385.8" fill="none" stroke="#454545" stroke-width="1" stroke-linejoin="round" stroke-linecap="round" />
<path d="M678.5 373 C678.1 373.7 676.4 375.6 676 377.2 C675.5 378.8 675.5 381.1 675.8 382.7 C676 384.4 677.1 386.4 677.4 387.1" fill="none" stroke="#454545" stroke-width="1" stroke-linejoin="round" stroke-linecap="round" />
<ellipse cx="680.3" cy="381.6" rx="4.2" ry="6.2" fill="#fff" stroke="#454545" stroke-width="1.5" transform="rotate(-12 680.3 381.6)"/>
<ellipse cx="680.5" cy="381.8" rx="2.6" ry="4.4" fill="#fff" stroke="#454545" stroke-width="1" transform="rotate(-12 680.5 381.8)"/>
<path d="M352 554 L357.1 550.2 L360.4 552.3 L360.4 572 L352 572Z" fill="#fff" stroke="#454545" stroke-width="1" stroke-linejoin="round" stroke-linecap="round" />
<path d="M352 557.3 L360.4 552.8" fill="none" stroke="#454545" stroke-width="0.9" stroke-linejoin="round" stroke-linecap="round" />
<path d="M196.5 485 L194.5 486 L194.5 492 L196.5 493Z" fill="#fff" stroke="#454545" stroke-width="1" stroke-linejoin="round" stroke-linecap="round" />
<path d="M196.5 495 L193 495.5 L190.3 498 L190.3 502 L193 504.5 L196.5 505.5Z" fill="#fff" stroke="#454545" stroke-width="1" stroke-linejoin="round" stroke-linecap="round" />
<ellipse cx="193.3" cy="500.2" rx="1.7" ry="2.2" fill="#fff" stroke="#454545" stroke-width="1"/>
<path d="M196.5 507 L194.8 508 L194.8 514 L196.5 515Z" fill="#fff" stroke="#454545" stroke-width="1" stroke-linejoin="round" stroke-linecap="round" />
<path d="M196.5 531 L195 532 L195 537 L196.5 538" fill="none" stroke="#454545" stroke-width="1" stroke-linejoin="round" stroke-linecap="round" />
<path d="M196.5 553 C195.8 553.7 193 555.3 192 557 C191 558.7 190.6 560.8 190.3 563 C190 565.2 190 568.2 190.3 570 C190.6 571.8 191 572.9 192 574 C193 575.1 195.8 576.1 196.5 576.5" fill="none" stroke="#454545" stroke-width="1" stroke-linejoin="round" stroke-linecap="round" />
<path d="M196.5 557 C196.1 557.5 194.6 558.8 194 560 C193.4 561.2 193 562.5 192.8 564 C192.6 565.5 192.6 567.7 192.8 569 C193 570.3 193.4 571.2 194 572 C194.6 572.8 196.1 573.2 196.5 573.5" fill="none" stroke="#454545" stroke-width="1" stroke-linejoin="round" stroke-linecap="round" />
<path d="M202.9 465.8 L340.6 545 L340.6 667.6 L202.9 588.9Z" fill="#fff" stroke="#454545" stroke-width="1" stroke-linejoin="round" stroke-linecap="round" />
<path d="M202.9 470.8 L340.6 550" stroke="#3a3a3a" stroke-width="0.9"/>
<path d="M202.9 473.2 L340.6 552.4" stroke="#3a3a3a" stroke-width="0.9"/>
<path d="M202.9 586.8 L340.6 665.5" stroke="#3a3a3a" stroke-width="0.9"/>
<path d="M202.9 476.9 L340.6 556.1" stroke="#3a3a3a" stroke-width="1.1"/>
<path d="M202.9 480.8 L340.6 560" stroke="#3a3a3a" stroke-width="1.1"/>
<path d="M202.9 484.6 L340.6 563.8" stroke="#3a3a3a" stroke-width="1.1"/>
<path d="M202.9 488.5 L340.6 567.6" stroke="#3a3a3a" stroke-width="1.1"/>
<path d="M202.9 492.4 L340.6 571.5" stroke="#3a3a3a" stroke-width="1.1"/>
<path d="M202.9 496.2 L340.6 575.4" stroke="#3a3a3a" stroke-width="1.1"/>
<path d="M202.9 500.1 L340.6 579.2" stroke="#3a3a3a" stroke-width="1.1"/>
<path d="M202.9 504 L340.6 583.1" stroke="#3a3a3a" stroke-width="1.1"/>
<path d="M202.9 507.8 L340.6 586.9" stroke="#3a3a3a" stroke-width="1.1"/>
<path d="M202.9 511.7 L340.6 590.8" stroke="#3a3a3a" stroke-width="1.1"/>
<path d="M202.9 515.6 L340.6 594.6" stroke="#3a3a3a" stroke-width="1.1"/>
<path d="M202.9 519.4 L340.6 598.5" stroke="#3a3a3a" stroke-width="1.1"/>
<path d="M202.9 523.3 L340.6 602.3" stroke="#3a3a3a" stroke-width="1.1"/>
<path d="M202.9 527.2 L340.6 606.1" stroke="#3a3a3a" stroke-width="1.1"/>
<path d="M202.9 531 L340.6 610" stroke="#3a3a3a" stroke-width="1.1"/>
<path d="M202.9 534.9 L340.6 613.9" stroke="#3a3a3a" stroke-width="1.1"/>
<path d="M202.9 538.8 L340.6 617.7" stroke="#3a3a3a" stroke-width="1.1"/>
<path d="M202.9 542.7 L340.6 621.5" stroke="#3a3a3a" stroke-width="1.1"/>
<path d="M202.9 546.5 L340.6 625.4" stroke="#3a3a3a" stroke-width="1.1"/>
<path d="M202.9 550.4 L340.6 629.2" stroke="#3a3a3a" stroke-width="1.1"/>
<path d="M202.9 554.3 L340.6 633.1" stroke="#3a3a3a" stroke-width="1.1"/>
<path d="M202.9 558.1 L340.6 637" stroke="#3a3a3a" stroke-width="1.1"/>
<path d="M202.9 562 L340.6 640.8" stroke="#3a3a3a" stroke-width="1.1"/>
<path d="M202.9 565.9 L340.6 644.6" stroke="#3a3a3a" stroke-width="1.1"/>
<path d="M202.9 569.7 L340.6 648.5" stroke="#3a3a3a" stroke-width="1.1"/>
<path d="M202.9 573.6 L340.6 652.4" stroke="#3a3a3a" stroke-width="1.1"/>
<path d="M202.9 577.5 L340.6 656.2" stroke="#3a3a3a" stroke-width="1.1"/>
<path d="M202.9 581.3 L340.6 660" stroke="#3a3a3a" stroke-width="1.1"/>
<path d="M202.9 585.2 L340.6 663.9" stroke="#3a3a3a" stroke-width="1.1"/>
<path d="M196.2 467.3 L202.9 467.3 L202.9 587 L204.2 588.5 L203.5 591 L201 592.6 L198 592.6 L195.6 590.5 L195.1 587 L196.2 585Z" fill="#fff" stroke="#454545" stroke-width="1" stroke-linejoin="round" stroke-linecap="round" />
<ellipse cx="200.9" cy="467.3" rx="4.9" ry="3.2" fill="#fff" stroke="#454545" stroke-width="1"/>
<path d="M196.2 585 C196.8 585.4 198.4 587.3 199.5 587.6 C200.6 587.9 202.3 587.1 202.9 587" fill="none" stroke="#454545" stroke-width="1" stroke-linejoin="round" stroke-linecap="round" />
<path d="M340.6 551 L351.5 551 L351.5 669.5 L352.6 671 L352 674.5 L349.5 677.3 L345 677.3 L342.6 674.5 L342.2 671 L340.6 669.5Z" fill="#fff" stroke="#454545" stroke-width="1" stroke-linejoin="round" stroke-linecap="round" />
<ellipse cx="346.3" cy="551.2" rx="5.6" ry="3.5" fill="#fff" stroke="#454545" stroke-width="1"/>
<path d="M340.6 667.5 C341.5 667.8 344.2 669.5 346 669.5 C347.8 669.5 350.7 667.8 351.6 667.5" fill="none" stroke="#454545" stroke-width="1" stroke-linejoin="round" stroke-linecap="round" />
<path d="M351 590.5 L345.3 591.5 L344 593 L344 600 L351 601.5Z" fill="#fff" stroke="#454545" stroke-width="1" stroke-linejoin="round" stroke-linecap="round" />
<path d="M351 646.5 L346.5 647.5 L349 651.5 L351 652Z" fill="#fff" stroke="#454545" stroke-width="1" stroke-linejoin="round" stroke-linecap="round" />
<path d="M351.8 574 L366.6 574 L366.6 654.5 L351.8 654.5Z" fill="#fff" stroke="#454545" stroke-width="1" stroke-linejoin="round" stroke-linecap="round" />
<ellipse cx="359.2" cy="654.5" rx="7.4" ry="3.2" fill="#fff" stroke="#454545" stroke-width="1"/>
<rect x="352.4" y="648" width="13.6" height="6.5" fill="#fff"/>
<path d="M351.8 651 C353 651.5 356.7 654 359.2 654 C361.7 654 365.4 651.5 366.6 651" fill="none" stroke="#454545" stroke-width="1" stroke-linejoin="round" stroke-linecap="round" />
<ellipse cx="359.2" cy="573.8" rx="7.4" ry="3.8" fill="#fff" stroke="#454545" stroke-width="1"/>
<ellipse cx="359.3" cy="573.4" rx="5.6" ry="3" fill="#fff" stroke="#454545" stroke-width="1"/>
<path d="M366.2 592.5 L369 594 L372 596.5 L376 598 L377.5 602 L376 607 L372.5 609 L369.5 606 L366.2 604Z" fill="#fff" stroke="#454545" stroke-width="1" stroke-linejoin="round" stroke-linecap="round" />
<ellipse cx="372.5" cy="602.5" rx="2.6" ry="3" fill="#fff" stroke="#454545" stroke-width="1" transform="rotate(20 372.5 602.5)"/>
<ellipse cx="373" cy="603" rx="1.3" ry="1.6" fill="#fff" stroke="#454545" stroke-width="1" transform="rotate(20 373 603)"/>
<path d="M366.2 630 L368.5 629 L371 631 L371 638.5 L368.5 640 L366.2 639Z" fill="#fff" stroke="#454545" stroke-width="1" stroke-linejoin="round" stroke-linecap="round" />
<path d="M368.5 629 L368.5 640" fill="none" stroke="#454545" stroke-width="1" stroke-linejoin="round" stroke-linecap="round" />
<ellipse cx="359.3" cy="664.5" rx="7.3" ry="5.3" fill="#fff" stroke="#454545" stroke-width="1"/>
<ellipse cx="359.3" cy="663.3" rx="5.6" ry="3.6" fill="#fff" stroke="#454545" stroke-width="1"/>
<ellipse cx="359.3" cy="662.6" rx="4" ry="2.4" fill="#fff" stroke="#454545" stroke-width="1"/>
<path d="M383 638.4 L389.5 635 L389.5 652.5 L383 656.1Z" fill="#fff" stroke="#454545" stroke-width="1" stroke-linejoin="round" stroke-linecap="round" />
<path d="M213.4 470.9 L215.4 467.7 L219 466 L221.8 463.8 L226.4 463.2 L228.3 465.5 L228.1 470.6 L226 474.5 L223 473.4 L219 472.3Z" fill="#fff" stroke="#454545" stroke-width="1" stroke-linejoin="round" stroke-linecap="round" />
<path d="M215.4 467.7 L219.6 469.4 L223 473.4" fill="none" stroke="#454545" stroke-width="0.9" stroke-linejoin="round" stroke-linecap="round" />
<path d="M219.6 469.4 L223.5 466.6 L226.4 463.2" fill="none" stroke="#454545" stroke-width="0.9" stroke-linejoin="round" stroke-linecap="round" />
<path d="M221.3 466.6 L221.3 472.3" fill="none" stroke="#454545" stroke-width="0.8" stroke-linejoin="round" stroke-linecap="round" />
<path d="M224.1 466.6 L224.7 473.4" fill="none" stroke="#454545" stroke-width="0.8" stroke-linejoin="round" stroke-linecap="round" />
<ellipse cx="217.9" cy="470.2" rx="1.3" ry="1" fill="#fff" stroke="#454545" stroke-width="1"/>
<path d="M285.7 493 L285.7 513.5" stroke="#444" stroke-width="1" fill="none"/>
<path d="M359.8 621.2 L384 621.2" stroke="#444" stroke-width="1" fill="none"/>
<path d="M389.5 646 L412.3 646" stroke="#444" stroke-width="1" fill="none"/>
<path d="M366.6 664.1 L385.8 664.1" stroke="#444" stroke-width="1" fill="none"/>
<g transform="translate(0 0)">
<ellipse cx="382.8" cy="309.8" rx="14.6" ry="25" fill="#fff" stroke="#454545" stroke-width="1" transform="rotate(17 382.8 309.8)"/>
<ellipse cx="373.8" cy="309.2" rx="15" ry="25.6" fill="#fff" transform="rotate(17 373.8 309.2)"/>
<path d="M381.3 284.8 A15 25.6 17 0 0 366.3 333.7" fill="none" stroke="#454545" stroke-width="1"/>
<path d="M382.5 286.3 A13.6 24.2 17 0 0 368.4 332.6" fill="none" stroke="#454545" stroke-width="0.9"/>
<path d="M382.9 284.3 L392.3 286.4 M368.5 333.6 L376.4 335.2" stroke="#454545" fill="none"/>
<path d="M384.4 285.9 L391.6 287.7" fill="none" stroke="#454545" stroke-width="0.8" stroke-linejoin="round" stroke-linecap="round" />
<path d="M386 287.6 L392.3 289.2" fill="none" stroke="#454545" stroke-width="0.8" stroke-linejoin="round" stroke-linecap="round" />
<path d="M381.9 286.1 L385.1 287" fill="none" stroke="#454545" stroke-width="0.8" stroke-linejoin="round" stroke-linecap="round" />
<path d="M390.9 295.8 C388.7 293.5 385.5 299.3 383.6 301.6 C381.8 303.9 380.6 306.5 379.6 309.5 C378.6 312.5 377.9 316.3 377.9 319.6 C377.8 323 378.4 326.9 379.3 329.7 C380.3 332.6 381.5 335 383.6 337 C385.8 338.9 390.1 344.9 392.3 341.3 C394.5 337.7 396.9 322.9 396.6 315.3 C396.4 307.7 393 298.1 390.9 295.8Z" fill="#fff" stroke="#454545" stroke-width="1" stroke-linejoin="round" stroke-linecap="round" />
<path d="M386.8 299.4 C385.9 300.9 382.8 305 381.5 308.1 C380.2 311.2 379.3 314.7 379 318.2 C378.8 321.7 379.1 325.8 380 329 C381 332.2 384 335.9 384.8 337.3" fill="none" stroke="#454545" stroke-width="0.9" stroke-linejoin="round" stroke-linecap="round" />
<path d="M372.1 293.7 C371.4 295.6 368.8 301.1 367.8 305.2 C366.8 309.3 365.9 314.2 366 318.2 C366.2 322.2 368.1 327.2 368.5 329" fill="none" stroke="#454545" stroke-width="0.8" stroke-linejoin="round" stroke-linecap="round" />
<path d="M385.1 303 C384.4 304.8 381.7 309.9 381 313.9 C380.4 317.8 380.5 323.2 381 326.9 C381.6 330.5 383.9 334.1 384.5 335.5" fill="none" stroke="#454545" stroke-width="0.8" stroke-linejoin="round" stroke-linecap="round" />
<path d="M392.3 298 L438.5 315.3 L444.3 328.3 L435.6 352.8 L424.1 358.9 L412.5 357.5 L392.3 343.7 L386.8 332.6 L386.2 319.6 L388.3 306.6Z" fill="#fff" stroke="#454545" stroke-width="1" stroke-linejoin="round" stroke-linecap="round" />
<path d="M391.6 303 C390.7 305.1 387.3 311.3 386.2 315.3 C385.2 319.3 385 323.5 385.1 326.9 C385.2 330.2 385.9 332.9 386.8 335.5 C387.8 338.2 390.2 341.5 390.9 342.7" fill="none" stroke="#454545" stroke-width="1" stroke-linejoin="round" stroke-linecap="round" />
<path d="M383.1 326.9 L386.8 327.7 L387.1 337.3 L383.6 335.5Z" fill="#fff" stroke="#454545" stroke-width="1" stroke-linejoin="round" stroke-linecap="round" />
<path d="M387.7 311 L389.7 309.8 L390.9 315.3" fill="none" stroke="#454545" stroke-width="0.9" stroke-linejoin="round" stroke-linecap="round" />
<path d="M392.3 326.9 L395.9 329 L397.4 335.5 L394 336.2 L392.3 338.7 L396.6 339.9" fill="none" stroke="#454545" stroke-width="0.9" stroke-linejoin="round" stroke-linecap="round" />
<path d="M386.8 319.6 L389.1 321.8 L389.4 329.7" fill="none" stroke="#454545" stroke-width="0.8" stroke-linejoin="round" stroke-linecap="round" />
<ellipse cx="426.2" cy="338" rx="17.6" ry="22" fill="#fff" stroke="#454545" stroke-width="1" transform="rotate(26 426.2 338)"/>
<path d="M414.7 344.2 C414.9 345.3 414.6 349.1 415.7 351.1 C416.8 353.2 420.3 355.6 421.2 356.5" fill="none" stroke="#454545" stroke-width="0.8" stroke-linejoin="round" stroke-linecap="round" />
<path d="M390.9 345.9 L394.5 344.2 L403.1 350 L402.7 351.7 L396.6 354.6 L391.6 351.1Z" fill="#fff" stroke="#454545" stroke-width="1" stroke-linejoin="round" stroke-linecap="round" />
<ellipse cx="393.9" cy="347.9" rx="1.4" ry="1.7" fill="#fff" stroke="#454545" stroke-width="1"/>
<path d="M411.4 358.9 L414.7 357.2 L421.2 359.5 L434.2 353.6 L434.6 357.2 L416.9 366.1 L411.8 362.7Z" fill="#fff" stroke="#454545" stroke-width="1" stroke-linejoin="round" stroke-linecap="round" />
<ellipse cx="414.3" cy="360.5" rx="1.4" ry="1.7" fill="#fff" stroke="#454545" stroke-width="1"/>
<path d="M416.9 366.1 L416.9 362.7 L411.8 359.3" fill="none" stroke="#454545" stroke-width="0.8" stroke-linejoin="round" stroke-linecap="round" />
<path d="M416.9 362.7 L434.6 354.6" fill="none" stroke="#454545" stroke-width="0.8" stroke-linejoin="round" stroke-linecap="round" />
<path d="M395.2 305.5 L396.6 300.9 L408.9 293.7 L413.2 297.3 L415.4 293.7 L422.6 291.5 L435.6 308.8 L438.8 315.3 L435.6 318.5 L421.2 322.8 L418.3 325.7 L415.7 327.7 L406.7 327.7 L395.2 321.4Z" fill="#fff" stroke="#454545" stroke-width="1" stroke-linejoin="round" stroke-linecap="round" />
<path d="M396.6 300.9 L398.8 303 L412.5 300.2 L413.2 297.3" fill="none" stroke="#454545" stroke-width="0.9" stroke-linejoin="round" stroke-linecap="round" />
<path d="M412.5 300.2 L424.1 307.4 L435.6 308.8" fill="none" stroke="#454545" stroke-width="1" stroke-linejoin="round" stroke-linecap="round" />
<path d="M424.1 307.4 L422.6 313.9 L435.6 318.5" fill="none" stroke="#454545" stroke-width="0.9" stroke-linejoin="round" stroke-linecap="round" />
<path d="M415.4 315.3 L415.7 327.7" fill="none" stroke="#454545" stroke-width="0.9" stroke-linejoin="round" stroke-linecap="round" />
<path d="M422.6 313.9 L418.3 319.6 L418.3 325.7" fill="none" stroke="#454545" stroke-width="0.9" stroke-linejoin="round" stroke-linecap="round" />
<path d="M424.1 309.8 L434.2 311.7" fill="none" stroke="#454545" stroke-width="0.7" stroke-linejoin="round" stroke-linecap="round" />
<path d="M390.6 303.5 L396.4 300.9 L397.4 311.3 L391.2 312.7Z" fill="#fff" stroke="#454545" stroke-width="1" stroke-linejoin="round" stroke-linecap="round" />
<ellipse cx="392.3" cy="309.2" rx="1.4" ry="1.8" fill="#fff" stroke="#454545" stroke-width="1"/>
<ellipse cx="398.4" cy="305.1" rx="2.4" ry="1.4" fill="#444" stroke="#454545" stroke-width="1"/>
<ellipse cx="411.9" cy="313.3" rx="2.6" ry="1.7" fill="#777" stroke="#454545" stroke-width="1"/>
<ellipse cx="417.1" cy="322.8" rx="1.8" ry="2.3" fill="#fff" stroke="#454545" stroke-width="1"/>
<path d="M411.9 313.9 L415.1 315.3" fill="none" stroke="#454545" stroke-width="0.8" stroke-linejoin="round" stroke-linecap="round" />
<path d="M421.2 292.2 L421.9 288.2 L425.5 285.7 L429.8 285.3 L431.3 289 L435.6 290 L436.8 293.7 L435.9 299.4 L433.5 301.6 L427.7 303 L424.1 298Z" fill="#fff" stroke="#454545" stroke-width="1" stroke-linejoin="round" stroke-linecap="round" />
<path d="M421.9 288.2 L427 291.5 L431.3 289" fill="none" stroke="#454545" stroke-width="0.9" stroke-linejoin="round" stroke-linecap="round" />
<path d="M427 291.5 L428.1 296.5 L433.5 297.3 L436.8 293.7" fill="none" stroke="#454545" stroke-width="0.9" stroke-linejoin="round" stroke-linecap="round" />
<ellipse cx="429.8" cy="294.8" rx="1.7" ry="2.3" fill="#fff" stroke="#454545" stroke-width="1"/>
<path d="M425.5 285.7 L427 288.6" fill="none" stroke="#454545" stroke-width="0.9" stroke-linejoin="round" stroke-linecap="round" />
<path d="M428.1 285 L429.3 288.2" fill="none" stroke="#454545" stroke-width="0.9" stroke-linejoin="round" stroke-linecap="round" />
<path d="M433.5 289.6 L433.9 293.7" fill="none" stroke="#454545" stroke-width="0.8" stroke-linejoin="round" stroke-linecap="round" />
<path d="M421.2 292.2 L418.3 295.8 L421.9 304.5 L427.7 303" fill="none" stroke="#454545" stroke-width="0.9" stroke-linejoin="round" stroke-linecap="round" />
<path d="M428.1 296.5 L424.1 300.2" fill="none" stroke="#454545" stroke-width="0.9" stroke-linejoin="round" stroke-linecap="round" />
</g>
<g transform="translate(331 183)">
<ellipse cx="382.8" cy="309.8" rx="14.6" ry="25" fill="#fff" stroke="#454545" stroke-width="1" transform="rotate(17 382.8 309.8)"/>
<ellipse cx="373.8" cy="309.2" rx="15" ry="25.6" fill="#fff" transform="rotate(17 373.8 309.2)"/>
<path d="M381.3 284.8 A15 25.6 17 0 0 366.3 333.7" fill="none" stroke="#454545" stroke-width="1"/>
<path d="M382.5 286.3 A13.6 24.2 17 0 0 368.4 332.6" fill="none" stroke="#454545" stroke-width="0.9"/>
<path d="M382.9 284.3 L392.3 286.4 M368.5 333.6 L376.4 335.2" stroke="#454545" fill="none"/>
<path d="M384.4 285.9 L391.6 287.7" fill="none" stroke="#454545" stroke-width="0.8" stroke-linejoin="round" stroke-linecap="round" />
<path d="M386 287.6 L392.3 289.2" fill="none" stroke="#454545" stroke-width="0.8" stroke-linejoin="round" stroke-linecap="round" />
<path d="M381.9 286.1 L385.1 287" fill="none" stroke="#454545" stroke-width="0.8" stroke-linejoin="round" stroke-linecap="round" />
<path d="M390.9 295.8 C388.7 293.5 385.5 299.3 383.6 301.6 C381.8 303.9 380.6 306.5 379.6 309.5 C378.6 312.5 377.9 316.3 377.9 319.6 C377.8 323 378.4 326.9 379.3 329.7 C380.3 332.6 381.5 335 383.6 337 C385.8 338.9 390.1 344.9 392.3 341.3 C394.5 337.7 396.9 322.9 396.6 315.3 C396.4 307.7 393 298.1 390.9 295.8Z" fill="#fff" stroke="#454545" stroke-width="1" stroke-linejoin="round" stroke-linecap="round" />
<path d="M386.8 299.4 C385.9 300.9 382.8 305 381.5 308.1 C380.2 311.2 379.3 314.7 379 318.2 C378.8 321.7 379.1 325.8 380 329 C381 332.2 384 335.9 384.8 337.3" fill="none" stroke="#454545" stroke-width="0.9" stroke-linejoin="round" stroke-linecap="round" />
<path d="M372.1 293.7 C371.4 295.6 368.8 301.1 367.8 305.2 C366.8 309.3 365.9 314.2 366 318.2 C366.2 322.2 368.1 327.2 368.5 329" fill="none" stroke="#454545" stroke-width="0.8" stroke-linejoin="round" stroke-linecap="round" />
<path d="M385.1 303 C384.4 304.8 381.7 309.9 381 313.9 C380.4 317.8 380.5 323.2 381 326.9 C381.6 330.5 383.9 334.1 384.5 335.5" fill="none" stroke="#454545" stroke-width="0.8" stroke-linejoin="round" stroke-linecap="round" />
<path d="M392.3 298 L438.5 315.3 L444.3 328.3 L435.6 352.8 L424.1 358.9 L412.5 357.5 L392.3 343.7 L386.8 332.6 L386.2 319.6 L388.3 306.6Z" fill="#fff" stroke="#454545" stroke-width="1" stroke-linejoin="round" stroke-linecap="round" />
<path d="M391.6 303 C390.7 305.1 387.3 311.3 386.2 315.3 C385.2 319.3 385 323.5 385.1 326.9 C385.2 330.2 385.9 332.9 386.8 335.5 C387.8 338.2 390.2 341.5 390.9 342.7" fill="none" stroke="#454545" stroke-width="1" stroke-linejoin="round" stroke-linecap="round" />
<path d="M383.1 326.9 L386.8 327.7 L387.1 337.3 L383.6 335.5Z" fill="#fff" stroke="#454545" stroke-width="1" stroke-linejoin="round" stroke-linecap="round" />
<path d="M387.7 311 L389.7 309.8 L390.9 315.3" fill="none" stroke="#454545" stroke-width="0.9" stroke-linejoin="round" stroke-linecap="round" />
<path d="M392.3 326.9 L395.9 329 L397.4 335.5 L394 336.2 L392.3 338.7 L396.6 339.9" fill="none" stroke="#454545" stroke-width="0.9" stroke-linejoin="round" stroke-linecap="round" />
<path d="M386.8 319.6 L389.1 321.8 L389.4 329.7" fill="none" stroke="#454545" stroke-width="0.8" stroke-linejoin="round" stroke-linecap="round" />
<ellipse cx="426.2" cy="338" rx="17.6" ry="22" fill="#fff" stroke="#454545" stroke-width="1" transform="rotate(26 426.2 338)"/>
<path d="M414.7 344.2 C414.9 345.3 414.6 349.1 415.7 351.1 C416.8 353.2 420.3 355.6 421.2 356.5" fill="none" stroke="#454545" stroke-width="0.8" stroke-linejoin="round" stroke-linecap="round" />
<path d="M390.9 345.9 L394.5 344.2 L403.1 350 L402.7 351.7 L396.6 354.6 L391.6 351.1Z" fill="#fff" stroke="#454545" stroke-width="1" stroke-linejoin="round" stroke-linecap="round" />
<ellipse cx="393.9" cy="347.9" rx="1.4" ry="1.7" fill="#fff" stroke="#454545" stroke-width="1"/>
<path d="M411.4 358.9 L414.7 357.2 L421.2 359.5 L434.2 353.6 L434.6 357.2 L416.9 366.1 L411.8 362.7Z" fill="#fff" stroke="#454545" stroke-width="1" stroke-linejoin="round" stroke-linecap="round" />
<ellipse cx="414.3" cy="360.5" rx="1.4" ry="1.7" fill="#fff" stroke="#454545" stroke-width="1"/>
<path d="M416.9 366.1 L416.9 362.7 L411.8 359.3" fill="none" stroke="#454545" stroke-width="0.8" stroke-linejoin="round" stroke-linecap="round" />
<path d="M416.9 362.7 L434.6 354.6" fill="none" stroke="#454545" stroke-width="0.8" stroke-linejoin="round" stroke-linecap="round" />
<path d="M395.2 305.5 L396.6 300.9 L408.9 293.7 L413.2 297.3 L415.4 293.7 L422.6 291.5 L435.6 308.8 L438.8 315.3 L435.6 318.5 L421.2 322.8 L418.3 325.7 L415.7 327.7 L406.7 327.7 L395.2 321.4Z" fill="#fff" stroke="#454545" stroke-width="1" stroke-linejoin="round" stroke-linecap="round" />
<path d="M396.6 300.9 L398.8 303 L412.5 300.2 L413.2 297.3" fill="none" stroke="#454545" stroke-width="0.9" stroke-linejoin="round" stroke-linecap="round" />
<path d="M412.5 300.2 L424.1 307.4 L435.6 308.8" fill="none" stroke="#454545" stroke-width="1" stroke-linejoin="round" stroke-linecap="round" />
<path d="M424.1 307.4 L422.6 313.9 L435.6 318.5" fill="none" stroke="#454545" stroke-width="0.9" stroke-linejoin="round" stroke-linecap="round" />
<path d="M415.4 315.3 L415.7 327.7" fill="none" stroke="#454545" stroke-width="0.9" stroke-linejoin="round" stroke-linecap="round" />
<path d="M422.6 313.9 L418.3 319.6 L418.3 325.7" fill="none" stroke="#454545" stroke-width="0.9" stroke-linejoin="round" stroke-linecap="round" />
<path d="M424.1 309.8 L434.2 311.7" fill="none" stroke="#454545" stroke-width="0.7" stroke-linejoin="round" stroke-linecap="round" />
<path d="M390.6 303.5 L396.4 300.9 L397.4 311.3 L391.2 312.7Z" fill="#fff" stroke="#454545" stroke-width="1" stroke-linejoin="round" stroke-linecap="round" />
<ellipse cx="392.3" cy="309.2" rx="1.4" ry="1.8" fill="#fff" stroke="#454545" stroke-width="1"/>
<ellipse cx="398.4" cy="305.1" rx="2.4" ry="1.4" fill="#444" stroke="#454545" stroke-width="1"/>
<ellipse cx="411.9" cy="313.3" rx="2.6" ry="1.7" fill="#777" stroke="#454545" stroke-width="1"/>
<ellipse cx="417.1" cy="322.8" rx="1.8" ry="2.3" fill="#fff" stroke="#454545" stroke-width="1"/>
<path d="M411.9 313.9 L415.1 315.3" fill="none" stroke="#454545" stroke-width="0.8" stroke-linejoin="round" stroke-linecap="round" />
<path d="M421.2 292.2 L421.9 288.2 L425.5 285.7 L429.8 285.3 L431.3 289 L435.6 290 L436.8 293.7 L435.9 299.4 L433.5 301.6 L427.7 303 L424.1 298Z" fill="#fff" stroke="#454545" stroke-width="1" stroke-linejoin="round" stroke-linecap="round" />
<path d="M421.9 288.2 L427 291.5 L431.3 289" fill="none" stroke="#454545" stroke-width="0.9" stroke-linejoin="round" stroke-linecap="round" />
<path d="M427 291.5 L428.1 296.5 L433.5 297.3 L436.8 293.7" fill="none" stroke="#454545" stroke-width="0.9" stroke-linejoin="round" stroke-linecap="round" />
<ellipse cx="429.8" cy="294.8" rx="1.7" ry="2.3" fill="#fff" stroke="#454545" stroke-width="1"/>
<path d="M425.5 285.7 L427 288.6" fill="none" stroke="#454545" stroke-width="0.9" stroke-linejoin="round" stroke-linecap="round" />
<path d="M428.1 285 L429.3 288.2" fill="none" stroke="#454545" stroke-width="0.9" stroke-linejoin="round" stroke-linecap="round" />
<path d="M433.5 289.6 L433.9 293.7" fill="none" stroke="#454545" stroke-width="0.8" stroke-linejoin="round" stroke-linecap="round" />
<path d="M421.2 292.2 L418.3 295.8 L421.9 304.5 L427.7 303" fill="none" stroke="#454545" stroke-width="0.9" stroke-linejoin="round" stroke-linecap="round" />
<path d="M428.1 296.5 L424.1 300.2" fill="none" stroke="#454545" stroke-width="0.9" stroke-linejoin="round" stroke-linecap="round" />
</g>
<path d="M450.3 355.8 C452.5 357.9 458.8 364.3 463.7 368.7 C468.6 373.1 474.3 378 479.6 382.2 C484.9 386.4 490.1 390.3 495.4 394 C500.7 397.7 505.9 401.1 511.2 404.3 C516.5 407.5 521.7 410.2 527 413 C532.3 415.8 537.4 418.3 542.8 420.9 C548.2 423.5 556.6 427.5 559.4 428.8 L563.1 424.1 L572.1 444.7 L549.2 451.8 L553.9 445.5 C552 444.7 547.3 442.9 542.8 440.7 C538.3 438.4 532.3 435.3 527 432 C521.7 428.7 516.5 425 511.2 420.9 C505.9 416.8 500.7 412.5 495.4 407.5 C490.1 402.5 484.9 396.8 479.6 390.9 C474.3 385 468.6 377.8 463.7 371.9 C458.8 366 452.5 358.5 450.3 355.8Z" fill="#ff0000"/>
<path d="M676.5 433 C678.7 433 680.9 433.8 682.5 435 C684.1 436.2 685.3 438 686 440 C686.7 442 686.8 444.7 686.8 447 C686.8 449.3 686.5 451.8 686 454 C685.5 456.2 684.6 458.5 683.5 460.5 C682.4 462.5 681.6 464.3 679.5 466 C677.4 467.7 674.9 469 671 470.5 C667.1 472 659.4 473.6 656 475 C652.6 476.4 651.9 477.3 650.5 479 C649.1 480.7 649.7 479.8 647.5 485 C645.3 490.2 639.9 504.8 637.5 510.5 C635.1 516.2 634.8 516.4 633 519 C631.2 521.6 629.2 524.2 627 526 C624.8 527.8 622.4 529.2 620 530 C617.6 530.8 614.7 530.9 612.5 530.5 C610.3 530.1 608.5 529.1 607 527.5 C605.5 525.9 604.4 523.8 603.8 521 C603.2 518.2 603 513.9 603.5 510.5 C604 507.1 605.2 503.5 606.5 500.5 C607.8 497.5 603.8 500.9 611.5 492.5 C619.2 484.1 643.9 458.8 652.5 450 C661.1 441.2 660.2 442 663 439.5 C665.8 437 667.2 436.1 669.5 435 C671.8 433.9 674.3 433 676.5 433Z" fill="none" stroke="#444" stroke-width="3.3"/>
<path d="M676.5 433 C678.7 433 680.9 433.8 682.5 435 C684.1 436.2 685.3 438 686 440 C686.7 442 686.8 444.7 686.8 447 C686.8 449.3 686.5 451.8 686 454 C685.5 456.2 684.6 458.5 683.5 460.5 C682.4 462.5 681.6 464.3 679.5 466 C677.4 467.7 674.9 469 671 470.5 C667.1 472 659.4 473.6 656 475 C652.6 476.4 651.9 477.3 650.5 479 C649.1 480.7 649.7 479.8 647.5 485 C645.3 490.2 639.9 504.8 637.5 510.5 C635.1 516.2 634.8 516.4 633 519 C631.2 521.6 629.2 524.2 627 526 C624.8 527.8 622.4 529.2 620 530 C617.6 530.8 614.7 530.9 612.5 530.5 C610.3 530.1 608.5 529.1 607 527.5 C605.5 525.9 604.4 523.8 603.8 521 C603.2 518.2 603 513.9 603.5 510.5 C604 507.1 605.2 503.5 606.5 500.5 C607.8 497.5 603.8 500.9 611.5 492.5 C619.2 484.1 643.9 458.8 652.5 450 C661.1 441.2 660.2 442 663 439.5 C665.8 437 667.2 436.1 669.5 435 C671.8 433.9 674.3 433 676.5 433Z" fill="none" stroke="#fff" stroke-width="1.5"/>
<path d="M676.5 433 C678.7 433 680.9 433.8 682.5 435 C684.1 436.2 685.3 438 686 440 C686.7 442 686.8 444.7 686.8 447 C686.8 449.3 686.5 451.8 686 454 C685.5 456.2 684.6 458.5 683.5 460.5 C682.4 462.5 681.6 464.3 679.5 466 C677.4 467.7 674.9 469 671 470.5 C667.1 472 659.4 473.6 656 475 C652.6 476.4 651.9 477.3 650.5 479 C649.1 480.7 649.7 479.8 647.5 485 C645.3 490.2 639.9 504.8 637.5 510.5 C635.1 516.2 634.8 516.4 633 519 C631.2 521.6 629.2 524.2 627 526 C624.8 527.8 622.4 529.2 620 530 C617.6 530.8 614.7 530.9 612.5 530.5 C610.3 530.1 608.5 529.1 607 527.5 C605.5 525.9 604.4 523.8 603.8 521 C603.2 518.2 603 513.9 603.5 510.5 C604 507.1 605.2 503.5 606.5 500.5 C607.8 497.5 603.8 500.9 611.5 492.5 C619.2 484.1 643.9 458.8 652.5 450 C661.1 441.2 660.2 442 663 439.5 C665.8 437 667.2 436.1 669.5 435 C671.8 433.9 674.3 433 676.5 433Z" fill="none" stroke="#999" stroke-width="0.4"/>
<path d="M653.1 420.7 L653.1 448.6" stroke="#444" stroke-width="1" fill="none"/>
<path d="M976 160.5 L978.5 147 L981 145.3 L987 148 L991.5 157 L990 158Z" fill="#fff" stroke="#454545" stroke-width="1" stroke-linejoin="round" stroke-linecap="round" />
<ellipse cx="981.5" cy="153" rx="0.8" ry="0.8" fill="#fff" stroke="#454545" stroke-width="1"/>
<path d="M1003.5 155 L1006 150.5 L1010 148.8 L1014 150.5 L1014.7 158.5Z" fill="#fff" stroke="#454545" stroke-width="1" stroke-linejoin="round" stroke-linecap="round" />
<path d="M1008 154 L1011.5 151 L1013 155" fill="none" stroke="#454545" stroke-width="1" stroke-linejoin="round" stroke-linecap="round" />
<path d="M930 176 L932 173.5 L1003.5 154.5 L1006 154 L1014 158.5 L1026 165.5 L1029 169 L1029 237 L1026 241 L1019.5 247 L957.5 270.5 L950 268.5 L936 262 L935.9 241 L930.8 235.8 L927 231.5 L927.5 222Z" fill="#fff" stroke="#454545" stroke-width="1" stroke-linejoin="round" stroke-linecap="round" />
<path d="M941.5 177 L941.5 173.8 L1002.5 157.3 L1006 157.5" fill="none" stroke="#454545" stroke-width="1" stroke-linejoin="round" stroke-linecap="round" />
<path d="M1003.5 154.5 L1014 160.5 L1026.5 168 L1027 236" fill="none" stroke="#454545" stroke-width="0.8" stroke-linejoin="round" stroke-linecap="round" />
<path d="M1007 164 L1011 163 L1017 166 L1015 170 L1012 171.5 L1013 176 L1011.5 186 L1010 190 L1008.5 183 L1009.5 176 L1007.5 172Z" fill="#fff" stroke="#454545" stroke-width="1" stroke-linejoin="round" stroke-linecap="round" />
<path d="M1029 194.5 L1030.5 196 L1030.5 204 L1029 205.5Z" fill="#fff" stroke="#454545" stroke-width="1" stroke-linejoin="round" stroke-linecap="round" />
<path d="M1018.5 216 L1029 203.5" fill="none" stroke="#454545" stroke-width="0.8" stroke-linejoin="round" stroke-linecap="round" />
<path d="M968.2 223.5 V235.2" stroke="#666" stroke-width="0.85"/>
<path d="M971.7 218.1 V234.7" stroke="#666" stroke-width="0.85"/>
<path d="M975.3 212.7 V234.1" stroke="#666" stroke-width="0.85"/>
<path d="M978.8 207.4 V233.6" stroke="#666" stroke-width="0.85"/>
<path d="M982.4 202 V233" stroke="#666" stroke-width="0.85"/>
<path d="M985.9 196.6 V232.5" stroke="#666" stroke-width="0.85"/>
<path d="M989.5 196.6 V231.9" stroke="#666" stroke-width="0.85"/>
<path d="M993 198.5 V229.1" stroke="#666" stroke-width="0.85"/>
<path d="M996.6 200.4 V228.5" stroke="#666" stroke-width="0.85"/>
<path d="M1000.1 202.3 V227.8" stroke="#666" stroke-width="0.85"/>
<path d="M1003.7 204.2 V227.1" stroke="#666" stroke-width="0.85"/>
<path d="M1007.2 206.1 V226.4" stroke="#666" stroke-width="0.85"/>
<path d="M961 235 L963.2 224 L984.1 190.5 L1017.1 207 L1017.7 226.2 L1014.9 235 L1011.6 238.9" fill="none" stroke="#454545" stroke-width="1" stroke-linejoin="round" stroke-linecap="round" />
<path d="M964.9 235 L966.5 225.1 L986.9 194.3 L1011.6 207.5" fill="none" stroke="#454545" stroke-width="1" stroke-linejoin="round" stroke-linecap="round" />
<path d="M985.2 191 L988 193.4" fill="none" stroke="#454545" stroke-width="0.8" stroke-linejoin="round" stroke-linecap="round" />
<path d="M966.5 243.8 L967.8 246 L990.7 237.4 L991.8 233.9 L994 235.2 L1008.9 230.1 L1009.4 226.2" fill="none" stroke="#454545" stroke-width="1" stroke-linejoin="round" stroke-linecap="round" />
<path d="M968.2 235.2 L990.7 231.7 L991.3 233.9" fill="none" stroke="#454545" stroke-width="0.9" stroke-linejoin="round" stroke-linecap="round" />
<path d="M994 229 L1008.3 226.2" fill="none" stroke="#454545" stroke-width="0.9" stroke-linejoin="round" stroke-linecap="round" />
<path d="M960.5 249.9 L961 253.9 L966.5 257 L992.9 248.2 L1011.6 241.6 L1017.1 236.3 L1018.2 226.2" fill="none" stroke="#454545" stroke-width="1" stroke-linejoin="round" stroke-linecap="round" />
<path d="M994 248.8 L995.3 252.8 L998.4 255 L1019.3 247.3 L1020.4 241.6 L1025.9 238.5 L1026.1 244.9 L1020.4 247.7" fill="none" stroke="#454545" stroke-width="0.9" stroke-linejoin="round" stroke-linecap="round" />
<path d="M966.5 257 L954.4 260" fill="none" stroke="#454545" stroke-width="0.8" stroke-linejoin="round" stroke-linecap="round" />
<path d="M995.3 247.1 L1000.6 246" fill="none" stroke="#454545" stroke-width="0.8" stroke-linejoin="round" stroke-linecap="round" />
<rect x="962.1" y="240" width="2.3" height="10.5" fill="#222"/>
<path d="M961 235 L961.6 240 L960.5 249.9" fill="none" stroke="#454545" stroke-width="0.9" stroke-linejoin="round" stroke-linecap="round" />
<path d="M964.9 235 L964.9 243.3 L966.5 243.8" fill="none" stroke="#454545" stroke-width="0.9" stroke-linejoin="round" stroke-linecap="round" />
<path d="M1017.7 215.8 L1027.9 205.9" fill="none" stroke="#454545" stroke-width="0.8" stroke-linejoin="round" stroke-linecap="round" />
<rect x="918.7" y="195" width="16.8" height="29.3" rx="4.5" fill="#fff" stroke="#454545" stroke-width="1" transform="rotate(-3 927 210)"/>
<path d="M921.5 199.5 L924 197.5 L925 201 L924.8 218" fill="none" stroke="#454545" stroke-width="1" stroke-linejoin="round" stroke-linecap="round" />
<path d="M932 196 C932.4 196.5 933.9 197.7 934.5 199 C935.1 200.3 935.3 203.2 935.5 204" fill="none" stroke="#454545" stroke-width="0.8" stroke-linejoin="round" stroke-linecap="round" />
<path d="M935.8 209 L941 212 L946 216 L953 219.5 L957.5 226.5 L961 236" fill="none" stroke="#454545" stroke-width="1" stroke-linejoin="round" stroke-linecap="round" />
<path d="M935.8 211.5 L940 214.5 L945 218.5 L951 221.5 L955.5 228 L958.8 236" fill="none" stroke="#454545" stroke-width="1" stroke-linejoin="round" stroke-linecap="round" />
<path d="M939.5 211.5 L943 213.5 L943 217.5 L939.5 215.5Z" fill="#fff" stroke="#454545" stroke-width="1" stroke-linejoin="round" stroke-linecap="round" />
<path d="M937.6 243 L937.6 264" fill="none" stroke="#454545" stroke-width="0.8" stroke-linejoin="round" stroke-linecap="round" />
<path d="M941.6 243.8 L941.6 262" fill="none" stroke="#454545" stroke-width="0.9" stroke-linejoin="round" stroke-linecap="round" />
<path d="M937.6 246 L941.6 246.8" fill="none" stroke="#454545" stroke-width="0.7" stroke-linejoin="round" stroke-linecap="round" />
<path d="M937.6 249 L941.6 249.8" fill="none" stroke="#454545" stroke-width="0.7" stroke-linejoin="round" stroke-linecap="round" />
<path d="M937.6 252 L941.6 252.8" fill="none" stroke="#454545" stroke-width="0.7" stroke-linejoin="round" stroke-linecap="round" />
<path d="M937.6 255 L941.6 255.8" fill="none" stroke="#454545" stroke-width="0.7" stroke-linejoin="round" stroke-linecap="round" />
<path d="M937.6 258 L941.6 258.8" fill="none" stroke="#454545" stroke-width="0.7" stroke-linejoin="round" stroke-linecap="round" />
<path d="M937.6 261 L941.6 261.8" fill="none" stroke="#454545" stroke-width="0.7" stroke-linejoin="round" stroke-linecap="round" />
<path d="M941 248 L950 253.5 L956 256 L961 262.5" fill="none" stroke="#454545" stroke-width="0.9" stroke-linejoin="round" stroke-linecap="round" />
<ellipse cx="951.5" cy="269" rx="5.5" ry="8" fill="#fff" stroke="#454545" stroke-width="1" transform="rotate(-12 951.5 269)"/>
<ellipse cx="949.5" cy="269.5" rx="4.2" ry="6.5" fill="#fff" stroke="#454545" stroke-width="1" transform="rotate(-12 949.5 269.5)"/>
<path d="M939.5 268 L947.5 266.2 L948.5 273.8 L940.5 275.5Z" fill="#fff" stroke="#454545" stroke-width="1" stroke-linejoin="round" stroke-linecap="round" />
<ellipse cx="940" cy="271.8" rx="1.6" ry="3.7" fill="#fff" stroke="#454545" stroke-width="1" transform="rotate(-10 940 271.8)"/>
<ellipse cx="948" cy="270" rx="1.6" ry="3.7" fill="#fff" stroke="#454545" stroke-width="1" transform="rotate(-10 948 270)"/>
<path d="M516.6 544.8 L514.5 548 L510.4 548 L508.4 544.8 L510.4 541.6 L514.5 541.6Z" fill="#fff" stroke="#454545" stroke-width="1" stroke-linejoin="round" stroke-linecap="round" />
<ellipse cx="512.8" cy="544.5" rx="2" ry="1.8" fill="#fff" stroke="#454545" stroke-width="1"/>
<path d="M494 545.2 L508.5 545.2" stroke="#444" stroke-width="1" fill="none"/>
<path d="M526.5 528 L526.5 544.5" stroke="#444" stroke-width="1" fill="none"/>
<ellipse cx="525.2" cy="552.4" rx="5.6" ry="8.4" fill="#fff" stroke="#454545" stroke-width="1.6" transform="rotate(28 525.2 552.4)"/>
<ellipse cx="525.5" cy="552.6" rx="2.6" ry="3.6" fill="#fff" stroke="#454545" stroke-width="1" transform="rotate(28 525.5 552.6)"/>
<ellipse cx="525.6" cy="552.7" rx="1.1" ry="1.6" fill="#555" stroke="#454545" stroke-width="1" transform="rotate(28 525.6 552.7)"/>
<ellipse cx="543.8" cy="562.6" rx="9.6" ry="13.6" fill="#fff" stroke="#454545" stroke-width="1" transform="rotate(18 543.8 562.6)"/>
<path d="M546.5 549.6 L555.5 551.8 L549.5 578.3 L540 575.6Z" fill="#fff" stroke="#454545" stroke-width="0" stroke-linejoin="round" stroke-linecap="round" />
<path d="M546.8 549.5 L556.3 552" fill="none" stroke="#454545" stroke-width="1" stroke-linejoin="round" stroke-linecap="round" />
<path d="M540.3 575.7 L548.5 578" fill="none" stroke="#454545" stroke-width="1" stroke-linejoin="round" stroke-linecap="round" />
<ellipse cx="552.5" cy="565" rx="9.6" ry="13.6" fill="#fff" stroke="#454545" stroke-width="1" transform="rotate(18 552.5 565)"/>
<ellipse cx="552.6" cy="565.2" rx="6.3" ry="9" fill="#fff" stroke="#454545" stroke-width="1.3" transform="rotate(18 552.6 565.2)"/>
<ellipse cx="553.2" cy="565.4" rx="4.3" ry="6.4" fill="#fff" stroke="#454545" stroke-width="1" transform="rotate(18 553.2 565.4)"/>
<path d="M546.5 578.2 L546.5 594.3" stroke="#444" stroke-width="1" fill="none"/>
<path d="M571 545.2 L571 568" stroke="#444" stroke-width="1" fill="none"/>
<ellipse cx="569.6" cy="578.2" rx="7" ry="10.8" fill="#fff" stroke="#454545" stroke-width="1" transform="rotate(28 569.6 578.2)"/>
<ellipse cx="569.8" cy="578.4" rx="4.6" ry="7.3" fill="#fff" stroke="#454545" stroke-width="1.3" transform="rotate(28 569.8 578.4)"/>
<ellipse cx="569.9" cy="578.6" rx="2" ry="3.4" fill="#fff" stroke="#454545" stroke-width="1" transform="rotate(28 569.9 578.6)"/>
<ellipse cx="585.6" cy="587.2" rx="5.1" ry="6.4" fill="#fff" stroke="#454545" stroke-width="1" transform="rotate(25 585.6 587.2)"/>
<path d="M585.5 585 C585.3 585.3 584.5 586.3 584.5 587 C584.5 587.7 585.3 588.7 585.5 589" fill="none" stroke="#454545" stroke-width="0.8" stroke-linejoin="round" stroke-linecap="round" />
<path d="M584.6 593.5 L584.6 616" stroke="#444" stroke-width="1" fill="none"/>
<path d="M605.7 575 L605.7 594.5" stroke="#444" stroke-width="1" fill="none"/>
<g transform="translate(594.5 590) rotate(30)">
<rect x="0" y="-2" width="8" height="4" fill="#fff" stroke="#454545"/>
<rect x="8" y="-2.8" width="19" height="5.6" fill="#fff" stroke="#454545"/>
<path d="M16 -2.8 V2.8" stroke="#454545"/>
<ellipse cx="24" cy="0" rx="1.6" ry="1" fill="#fff" stroke="#454545" stroke-width="0.8"/>
<ellipse cx="0.3" cy="0" rx="1" ry="2" fill="#fff" stroke="#454545" stroke-width="0.8"/>
</g>
<path d="M663.1 543.5 L663.1 560.5" stroke="#444" stroke-width="1" fill="none"/>
<path d="M663.5 560.2 L668.8 560.7 L670.1 564.9 L670.7 571.1 L675.8 568.3 L680.9 568.6 L684.8 573.7 L683.9 577.5 L678.6 583.2 L678.2 588.8 L677.1 592.6 L672.9 596 L682.4 612.9 L680.9 619 L673.9 622.4 L667.3 618.6 L660.1 626.5 L654.1 625.2 L648.4 622.4 L640.5 626.1 L634.3 622.7 L631.8 618.6 L628.6 601.6 L630 597.5 L650.7 567.3Z" fill="#fff" stroke="#454545" stroke-width="1" stroke-linejoin="round" stroke-linecap="round" />
<path d="M659.4 570.5 C659.9 571.1 661.2 573.1 662.6 573.7 C664 574.4 666.3 574.7 667.7 574.3 C669 573.9 670.2 571.6 670.7 571.1" fill="none" stroke="#454545" stroke-width="1" stroke-linejoin="round" stroke-linecap="round" />
<path d="M670.7 571.1 L672.9 572.4 L675.2 571.8" fill="none" stroke="#454545" stroke-width="0.9" stroke-linejoin="round" stroke-linecap="round" />
<path d="M639.4 594.1 L644.7 618.6 L640.5 622.4" fill="none" stroke="#454545" stroke-width="1" stroke-linejoin="round" stroke-linecap="round" />
<path d="M633.7 600.1 L635.2 598.8 L637.5 615.8 L636 618.2Z" fill="#fff" stroke="#454545" stroke-width="1" stroke-linejoin="round" stroke-linecap="round" />
<path d="M634.9 601.6 L636.6 615.2" fill="none" stroke="#454545" stroke-width="0.8" stroke-linejoin="round" stroke-linecap="round" />
<path d="M646.9 587.5 L648.8 586.2 L650.7 587.5 L654.1 603.5 L652.2 606.3 L647.5 602.6Z" fill="#fff" stroke="#454545" stroke-width="1" stroke-linejoin="round" stroke-linecap="round" />
<path d="M648.4 588.8 L651.8 604.5" fill="none" stroke="#454545" stroke-width="0.8" stroke-linejoin="round" stroke-linecap="round" />
<path d="M658.2 596.4 L660.1 594.1 L662.6 595 L666.3 610.1 L664.5 612.9 L659.7 609.2Z" fill="#fff" stroke="#454545" stroke-width="1" stroke-linejoin="round" stroke-linecap="round" />
<path d="M660.1 596.4 L663.9 611.4" fill="none" stroke="#454545" stroke-width="0.8" stroke-linejoin="round" stroke-linecap="round" />
<ellipse cx="654.1" cy="591.8" rx="2.6" ry="2.9" fill="#fff" stroke="#454545" stroke-width="1"/>
<path d="M652.2 595 L655 600.1" fill="none" stroke="#454545" stroke-width="0.9" stroke-linejoin="round" stroke-linecap="round" />
<ellipse cx="671.6" cy="591.8" rx="3" ry="3.3" fill="#fff" stroke="#454545" stroke-width="1"/>
<ellipse cx="676" cy="615.8" rx="3" ry="3.3" fill="#fff" stroke="#454545" stroke-width="1"/>
<ellipse cx="676" cy="616.1" rx="1.6" ry="1.8" fill="#fff" stroke="#454545" stroke-width="1"/>
<ellipse cx="656.4" cy="622" rx="2.6" ry="2.4" fill="#fff" stroke="#454545" stroke-width="1"/>
<path d="M667.7 593.1 L672.9 612.9" fill="none" stroke="#454545" stroke-width="1" stroke-linejoin="round" stroke-linecap="round" />
<path d="M670.7 596 L675.2 611.4" fill="none" stroke="#454545" stroke-width="1" stroke-linejoin="round" stroke-linecap="round" />
<path d="M650.7 567.3 L652.2 569.6 L632.4 599.7" fill="none" stroke="#454545" stroke-width="0.8" stroke-linejoin="round" stroke-linecap="round" />
<g transform="translate(690.8 584.7) rotate(-32.2)">
<rect x="0" y="-1.2" width="14.7" height="2.4" rx="0.8" fill="#fff" stroke="#454545" stroke-width="0.95"/>
<path d="M1.3 -1.2 v2.4" stroke="#454545" stroke-width="0.6"/>
<path d="M2.6 -1.2 v2.4" stroke="#454545" stroke-width="0.6"/>
<path d="M3.9 -1.2 v2.4" stroke="#454545" stroke-width="0.6"/>
<ellipse cx="14.7" cy="0" rx="1.2" ry="2.9" fill="#fff" stroke="#454545" stroke-width="1"/>
<path d="M14.7 -2.2 L17.8 -2.1 Q19.2 0 17.8 2.1 L14.7 2.2 Z" fill="#fff" stroke="#454545" stroke-width="1" stroke-linejoin="round"/>
<path d="M14.7 -0.5 H18.6" stroke="#454545" stroke-width="0.7"/>
</g>
<path d="M708.8 575.6 L728.5 575.6" stroke="#444" stroke-width="1" fill="none"/>
<g transform="translate(693.3 608.2) rotate(-28)">
<rect x="0" y="-1.2" width="10.8" height="2.4" rx="0.8" fill="#fff" stroke="#454545" stroke-width="0.95"/>
<path d="M1.3 -1.2 v2.4" stroke="#454545" stroke-width="0.6"/>
<path d="M2.6 -1.2 v2.4" stroke="#454545" stroke-width="0.6"/>
<path d="M3.9 -1.2 v2.4" stroke="#454545" stroke-width="0.6"/>
<ellipse cx="10.8" cy="0" rx="1.2" ry="2.9" fill="#fff" stroke="#454545" stroke-width="1"/>
<path d="M10.8 -2.2 L13.9 -2.1 Q15.3 0 13.9 2.1 L10.8 2.2 Z" fill="#fff" stroke="#454545" stroke-width="1" stroke-linejoin="round"/>
<path d="M10.8 -0.5 H14.7" stroke="#454545" stroke-width="0.7"/>
</g>
<path d="M708.8 602.2 L725.7 602.2" stroke="#444" stroke-width="1" fill="none"/>
<g transform="translate(644.7 632.5) rotate(76.1)">
<rect x="0" y="-1.3" width="23.8" height="2.6" rx="0.8" fill="#fff" stroke="#454545" stroke-width="0.95"/>
<path d="M1.3 -1.3 v2.6" stroke="#454545" stroke-width="0.6"/>
<path d="M2.6 -1.3 v2.6" stroke="#454545" stroke-width="0.6"/>
<path d="M3.9 -1.3 v2.6" stroke="#454545" stroke-width="0.6"/>
<ellipse cx="23.8" cy="0" rx="1.4" ry="3.3" fill="#fff" stroke="#454545" stroke-width="1"/>
<path d="M23.8 -2.5 L27.5 -2.4 Q28.9 0 27.5 2.4 L23.8 2.5 Z" fill="#fff" stroke="#454545" stroke-width="1" stroke-linejoin="round"/>
<path d="M23.8 -0.6 H28.3" stroke="#454545" stroke-width="0.7"/>
</g>
<path d="M650.3 645.4 L673.9 645.4" stroke="#444" stroke-width="1" fill="none"/>
<g transform="translate(791.8 454.5) rotate(-28.1)">
<rect x="0" y="-1.4" width="26.4" height="2.7" rx="0.8" fill="#fff" stroke="#454545" stroke-width="0.95"/>
<path d="M1.3 -1.4 v2.7" stroke="#454545" stroke-width="0.6"/>
<path d="M2.6 -1.4 v2.7" stroke="#454545" stroke-width="0.6"/>
<path d="M3.9 -1.4 v2.7" stroke="#454545" stroke-width="0.6"/>
<ellipse cx="26.4" cy="0" rx="1.3" ry="3.1" fill="#fff" stroke="#454545" stroke-width="1"/>
<path d="M26.4 -2.4 L29.8 -2.2 Q31.2 0 29.8 2.2 L26.4 2.4 Z" fill="#fff" stroke="#454545" stroke-width="1" stroke-linejoin="round"/>
<path d="M26.4 -0.6 H30.6" stroke="#454545" stroke-width="0.7"/>
</g>
<path d="M805.2 432 L805.2 446" stroke="#444" stroke-width="1" fill="none"/>
<g transform="translate(791.8 494) rotate(-29.2)">
<rect x="0" y="-1.4" width="26.7" height="2.7" rx="0.8" fill="#fff" stroke="#454545" stroke-width="0.95"/>
<path d="M1.3 -1.4 v2.7" stroke="#454545" stroke-width="0.6"/>
<path d="M2.6 -1.4 v2.7" stroke="#454545" stroke-width="0.6"/>
<path d="M3.9 -1.4 v2.7" stroke="#454545" stroke-width="0.6"/>
<ellipse cx="26.7" cy="0" rx="1.3" ry="3.1" fill="#fff" stroke="#454545" stroke-width="1"/>
<path d="M26.7 -2.4 L30.1 -2.2 Q31.5 0 30.1 2.2 L26.7 2.4 Z" fill="#fff" stroke="#454545" stroke-width="1" stroke-linejoin="round"/>
<path d="M26.7 -0.6 H30.9" stroke="#454545" stroke-width="0.7"/>
</g>
<path d="M808.6 486 L808.6 501.8" stroke="#444" stroke-width="1" fill="none"/>
<path d="M804.3 523.6 L796.8 525.8 L790.2 532.4 L785.4 540.9 L784.1 547.5 L788.3 554.1 L797.7 558.8 L808.1 556.9 L814.7 554.5 L819.6 551.3 L811.3 546.2 L810.5 539 L812.4 532.4 L815.8 528.6 L810.5 525.8Z" fill="#fff" stroke="#454545" stroke-width="1" stroke-linejoin="round" stroke-linecap="round" />
<path d="M804.3 523.6 L797.7 537.1 L794.9 552.2 L797.7 558.8" fill="none" stroke="#454545" stroke-width="1" stroke-linejoin="round" stroke-linecap="round" />
<path d="M810.5 525.8 L800.5 542.8 L796.2 550.7" fill="none" stroke="#454545" stroke-width="1" stroke-linejoin="round" stroke-linecap="round" />
<path d="M815.8 528.6 L818.8 530.5 L819.9 534.3 L817.5 537.1 L814.7 536.2 L812.4 532.4Z" fill="#fff" stroke="#454545" stroke-width="1" stroke-linejoin="round" stroke-linecap="round" />
<ellipse cx="816.2" cy="533" rx="1.6" ry="2.4" fill="#fff" stroke="#454545" stroke-width="1"/>
<ellipse cx="799.6" cy="554.1" rx="1.3" ry="1.6" fill="#fff" stroke="#454545" stroke-width="1"/>
<ellipse cx="811.3" cy="549.9" rx="1.2" ry="1.4" fill="#fff" stroke="#454545" stroke-width="1"/>
<path d="M794.9 552.2 L811.3 546.2" fill="none" stroke="#454545" stroke-width="0.8" stroke-linejoin="round" stroke-linecap="round" />
<g transform="translate(824.1 534.5) rotate(28.5)">
<rect x="0" y="-1.4" width="10.5" height="2.8" rx="0.8" fill="#fff" stroke="#454545" stroke-width="0.95"/>
<path d="M1.3 -1.4 v2.8" stroke="#454545" stroke-width="0.6"/>
<path d="M2.6 -1.4 v2.8" stroke="#454545" stroke-width="0.6"/>
<path d="M3.9 -1.4 v2.8" stroke="#454545" stroke-width="0.6"/>
<ellipse cx="10.5" cy="0" rx="1.3" ry="3.1" fill="#fff" stroke="#454545" stroke-width="1"/>
<path d="M10.5 -2.4 L13.9 -2.2 Q15.3 0 13.9 2.2 L10.5 2.4 Z" fill="#fff" stroke="#454545" stroke-width="1" stroke-linejoin="round"/>
<path d="M10.5 -0.6 H14.7" stroke="#454545" stroke-width="0.7"/>
</g>
<path d="M838 540.9 L870.3 540.9" stroke="#444" stroke-width="1" fill="none"/>
<path d="M818.8 551.6 L854.3 551.6" stroke="#444" stroke-width="1" fill="none"/>
</g>
<g id="labels">
<text x="413.5" y="48">97762</text>
<text x="303" y="110">97794H</text>
<text x="329" y="120.5">11403B</text>
<text x="329" y="132.7">1140EJ</text>
<text x="123.8" y="159.5">97794G</text>
<text x="148" y="172.6">11403B</text>
<text x="148" y="184">1140EJ</text>
<text x="213" y="185.5">97671A</text>
<text x="386.2" y="179.4">97752B</text>
<text x="535.6" y="101">97811B</text>
<text x="535.6" y="113.5">97812A</text>
<text x="517.8" y="173.9">97855B</text>
<text x="514" y="208.8">97793E</text>
<text x="583.6" y="260.4">1140EN</text>
<text x="612.9" y="89.2">97763</text>
<text x="746.5" y="132.1">97775</text>
<text x="692.3" y="179.2">97763A</text>
<text x="741.4" y="179.2">97855B</text>
<text x="794.2" y="179.2">97793E</text>
<text x="806.1" y="220.8">97623</text>
<text x="859.4" y="200.8">97655A</text>
<text x="759.6" y="291.9">97236</text>
<text x="712" y="312.6">1338AD</text>
<text x="826.5" y="295.8">97651</text>
<text x="857.3" y="322.9">97656B</text>
<text x="656.6" y="331.4">97793</text>
<text x="652.6" y="346.8">97792A</text>
<text x="88.8" y="323">97811A</text>
<text x="88.8" y="337.5">97812A</text>
<text x="88.8" y="354">97690A</text>
<text x="32" y="358.8">97761</text>
<text x="88.8" y="390">97752B</text>
<text x="228" y="335.5">13396</text>
<text x="228" y="347.5">1336AC</text>
<text x="228" y="359">1339BC</text>
<text x="228" y="376">97690D</text>
<text x="247" y="421">97811A</text>
<text x="247" y="434">97812A</text>
<text x="245" y="458.8">97690A</text>
<text x="266.5" y="489.6">97606</text>
<text x="387" y="625">97802</text>
<text x="416" y="650.8">97367</text>
<text x="389" y="668.5">97803</text>
<text x="630.7" y="413.6">97713A</text>
<text x="786.9" y="429.1">97705</text>
<text x="786.4" y="514.9">97714D</text>
<text x="876.5" y="545.2">1140FN</text>
<text x="858.9" y="556.5">97705A</text>
<text x="509.3" y="522.7">97833</text>
<text x="441.9" y="549.9">1339CE</text>
<text x="548.7" y="543.5">97644A</text>
<text x="588.5" y="569.9">97830</text>
<text x="529.5" y="609.2">97834</text>
<text x="567.6" y="629.6">97832</text>
<text x="645.8" y="537.7">97703</text>
<text x="733.2" y="579.9">1140HH</text>
<text x="730.6" y="606.8">1140HE</text>
<text x="678.2" y="650.5">97716A</text>
</g>
</svg></body></html>
